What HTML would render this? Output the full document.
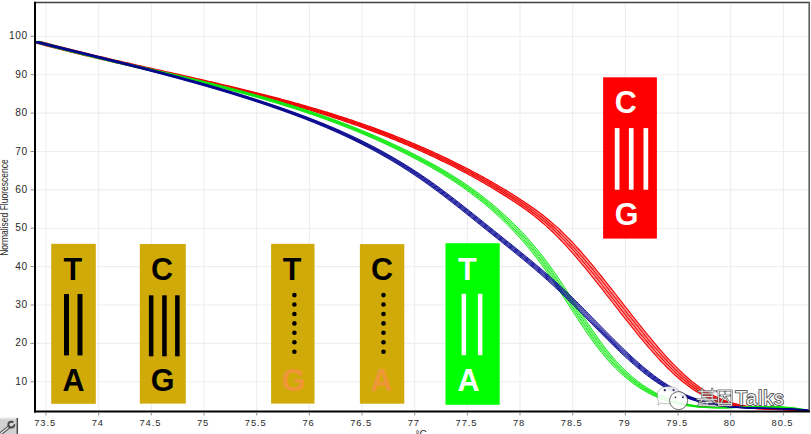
<!DOCTYPE html>
<html><head><meta charset="utf-8"><style>
html,body{margin:0;padding:0;background:#fff;width:811px;height:434px;overflow:hidden;}
svg{display:block;font-family:"Liberation Sans", sans-serif;}
</style></head><body>
<svg width="811" height="434" viewBox="0 0 811 434">
<rect x="0" y="0" width="811" height="434" fill="#ffffff"/>
<g stroke="#eeeeee" stroke-width="1.1"><line x1="46.0" y1="3" x2="46.0" y2="411" /><line x1="98.7" y1="3" x2="98.7" y2="411" /><line x1="151.3" y1="3" x2="151.3" y2="411" /><line x1="204.0" y1="3" x2="204.0" y2="411" /><line x1="256.7" y1="3" x2="256.7" y2="411" /><line x1="309.4" y1="3" x2="309.4" y2="411" /><line x1="362.0" y1="3" x2="362.0" y2="411" /><line x1="414.7" y1="3" x2="414.7" y2="411" /><line x1="467.4" y1="3" x2="467.4" y2="411" /><line x1="520.0" y1="3" x2="520.0" y2="411" /><line x1="572.7" y1="3" x2="572.7" y2="411" /><line x1="625.4" y1="3" x2="625.4" y2="411" /><line x1="678.0" y1="3" x2="678.0" y2="411" /><line x1="730.7" y1="3" x2="730.7" y2="411" /><line x1="783.4" y1="3" x2="783.4" y2="411" /><line x1="35" y1="381.8" x2="809" y2="381.8" /><line x1="35" y1="343.4" x2="809" y2="343.4" /><line x1="35" y1="305.0" x2="809" y2="305.0" /><line x1="35" y1="266.6" x2="809" y2="266.6" /><line x1="35" y1="228.2" x2="809" y2="228.2" /><line x1="35" y1="189.9" x2="809" y2="189.9" /><line x1="35" y1="151.5" x2="809" y2="151.5" /><line x1="35" y1="113.1" x2="809" y2="113.1" /><line x1="35" y1="74.7" x2="809" y2="74.7" /><line x1="35" y1="36.3" x2="809" y2="36.3" /></g>
<defs><clipPath id="pc"><rect x="35" y="2" width="775" height="410"/></clipPath></defs><g clip-path="url(#pc)">
<path d="M31.9,41.52 L33.9,42.07 L35.9,42.61 L37.9,43.15 L39.9,43.68 L41.9,44.21 L43.9,44.74 L45.9,45.27 L47.9,45.79 L49.9,46.31 L51.9,46.83 L53.9,47.35 L55.9,47.86 L57.9,48.37 L59.9,48.88 L61.9,49.39 L63.9,49.89 L65.9,50.39 L67.9,50.89 L69.9,51.39 L71.9,51.88 L73.9,52.37 L75.9,52.86 L77.9,53.35 L79.9,53.84 L81.9,54.32 L83.9,54.80 L85.9,55.28 L87.9,55.76 L89.9,56.24 L91.9,56.71 L93.9,57.19 L95.9,57.66 L97.9,58.13 L99.9,58.60 L101.9,59.06 L103.9,59.53 L105.9,59.99 L107.9,60.46 L109.9,60.92 L111.9,61.38 L113.9,61.84 L115.9,62.30 L117.9,62.76 L119.9,63.21 L121.9,63.67 L123.9,64.12 L125.9,64.58 L127.9,65.03 L129.9,65.48 L131.9,65.94 L133.9,66.39 L135.9,66.84 L137.9,67.29 L139.9,67.74 L141.9,68.19 L143.9,68.64 L145.9,69.08 L147.9,69.53 L149.9,69.98 L151.9,70.43 L153.9,70.88 L155.9,71.33 L157.9,71.77 L159.9,72.22 L161.9,72.67 L163.9,73.12 L165.9,73.57 L167.9,74.01 L169.9,74.46 L171.9,74.91 L173.9,75.36 L175.9,75.81 L177.9,76.26 L179.9,76.71 L181.9,77.16 L183.9,77.62 L185.9,78.07 L187.9,78.52 L189.9,78.98 L191.9,79.43 L193.9,79.89 L195.9,80.35 L197.9,80.81 L199.9,81.27 L201.9,81.73 L203.9,82.19 L205.9,82.65 L207.9,83.11 L209.9,83.58 L211.9,84.05 L213.9,84.51 L215.9,84.98 L217.9,85.46 L219.9,85.93 L221.9,86.40 L223.9,86.88 L225.9,87.36 L227.9,87.84 L229.9,88.32 L231.9,88.80 L233.9,89.29 L235.9,89.77 L237.9,90.26 L239.9,90.75 L241.9,91.25 L243.9,91.74 L245.9,92.24 L247.9,92.74 L249.9,93.24 L251.9,93.75 L253.9,94.25 L255.9,94.76 L257.9,95.28 L259.9,95.79 L261.9,96.31 L263.9,96.83 L265.9,97.35 L267.9,97.88 L269.9,98.41 L271.9,98.94 L273.9,99.47 L275.9,100.01 L277.9,100.55 L279.9,101.09 L281.9,101.64 L283.9,102.19 L285.9,102.74 L287.9,103.30 L289.9,103.86 L291.9,104.42 L293.9,104.99 L295.9,105.56 L297.9,106.13 L299.9,106.71 L301.9,107.29 L303.9,107.87 L305.9,108.46 L307.9,109.06 L309.9,109.65 L311.9,110.25 L313.9,110.86 L315.9,111.46 L317.9,112.08 L319.9,112.69 L321.9,113.31 L323.9,113.94 L325.9,114.56 L327.9,115.20 L329.9,115.83 L331.9,116.48 L333.9,117.12 L335.9,117.77 L337.9,118.43 L339.9,119.09 L341.9,119.75 L343.9,120.42 L345.9,121.10 L347.9,121.78 L349.9,122.46 L351.9,123.15 L353.9,123.84 L355.9,124.54 L357.9,125.25 L359.9,125.95 L361.9,126.67 L363.9,127.39 L365.9,128.11 L367.9,128.84 L369.9,129.58 L371.9,130.32 L373.9,131.07 L375.9,131.82 L377.9,132.57 L379.9,133.34 L381.9,134.11 L383.9,134.88 L385.9,135.66 L387.9,136.45 L389.9,137.24 L391.9,138.04 L393.9,138.84 L395.9,139.65 L397.9,140.47 L399.9,141.29 L401.9,142.12 L403.9,142.95 L405.9,143.79 L407.9,144.64 L409.9,145.50 L411.9,146.36 L413.9,147.22 L415.9,148.10 L417.9,148.98 L419.9,149.86 L421.9,150.76 L423.9,151.66 L425.9,152.56 L427.9,153.48 L429.9,154.40 L431.9,155.32 L433.9,156.26 L435.9,157.20 L437.9,158.15 L439.9,159.11 L441.9,160.07 L443.9,161.04 L445.9,162.02 L447.9,163.00 L449.9,163.99 L451.9,164.99 L453.9,166.00 L455.9,167.02 L457.9,168.04 L459.9,169.07 L461.9,170.11 L463.9,171.16 L465.9,172.22 L467.9,173.28 L469.9,174.36 L471.9,175.44 L473.9,176.53 L475.9,177.63 L477.9,178.74 L479.9,179.86 L481.9,180.99 L483.9,182.13 L485.9,183.28 L487.9,184.44 L489.9,185.60 L491.9,186.78 L493.9,187.97 L495.9,189.17 L497.9,190.38 L499.9,191.60 L501.9,192.83 L503.9,194.07 L505.9,195.32 L507.9,196.58 L509.9,197.86 L511.9,199.14 L513.9,200.44 L515.9,201.76 L517.9,203.09 L519.9,204.44 L521.9,205.81 L523.9,207.20 L525.9,208.61 L527.9,210.05 L529.9,211.52 L531.9,213.01 L533.9,214.53 L535.9,216.08 L537.9,217.66 L539.9,219.28 L541.9,220.93 L543.9,222.62 L545.9,224.34 L547.9,226.11 L549.9,227.92 L551.9,229.77 L553.9,231.66 L555.9,233.60 L557.9,235.58 L559.9,237.60 L561.9,239.66 L563.9,241.76 L565.9,243.89 L567.9,246.06 L569.9,248.26 L571.9,250.50 L573.9,252.76 L575.9,255.05 L577.9,257.37 L579.9,259.72 L581.9,262.09 L583.9,264.49 L585.9,266.90 L587.9,269.34 L589.9,271.79 L591.9,274.26 L593.9,276.75 L595.9,279.26 L597.9,281.77 L599.9,284.30 L601.9,286.84 L603.9,289.38 L605.9,291.94 L607.9,294.50 L609.9,297.06 L611.9,299.63 L613.9,302.20 L615.9,304.76 L617.9,307.33 L619.9,309.90 L621.9,312.46 L623.9,315.01 L625.9,317.56 L627.9,320.10 L629.9,322.62 L631.9,325.14 L633.9,327.64 L635.9,330.13 L637.9,332.60 L639.9,335.06 L641.9,337.49 L643.9,339.91 L645.9,342.30 L647.9,344.67 L649.9,347.01 L651.9,349.32 L653.9,351.61 L655.9,353.86 L657.9,356.09 L659.9,358.28 L661.9,360.43 L663.9,362.55 L665.9,364.63 L667.9,366.67 L669.9,368.67 L671.9,370.63 L673.9,372.54 L675.9,374.40 L677.9,376.22 L679.9,377.99 L681.9,379.71 L683.9,381.38 L685.9,382.99 L687.9,384.55 L689.9,386.05 L691.9,387.49 L693.9,388.87 L695.9,390.19 L697.9,391.45 L699.9,392.65 L701.9,393.79 L703.9,394.88 L705.9,395.92 L707.9,396.90 L709.9,397.83 L711.9,398.71 L713.9,399.54 L715.9,400.33 L717.9,401.07 L719.9,401.76 L721.9,402.42 L723.9,403.03 L725.9,403.60 L727.9,404.14 L729.9,404.64 L731.9,405.10 L733.9,405.53 L735.9,405.93 L737.9,406.30 L739.9,406.64 L741.9,406.95 L743.9,407.23 L745.9,407.49 L747.9,407.73 L749.9,407.94 L751.9,408.14 L753.9,408.31 L755.9,408.47 L757.9,408.61 L759.9,408.74 L761.9,408.86 L763.9,408.96 L765.9,409.05 L767.9,409.14 L769.9,409.22 L771.9,409.29 L773.9,409.36 L775.9,409.43 L777.9,409.49 L779.9,409.56 L781.9,409.63 L783.9,409.70 L785.9,409.77 L787.9,409.85 L789.9,409.94 L791.9,410.04 L793.9,410.15 L795.9,410.28 L797.9,410.41 L799.9,410.56 L801.9,410.73 L803.9,410.92 L805.9,411.12" stroke="#ff6a6a" stroke-width="1.00" fill="none"/>
<path d="M35.0,41.42 L37.0,41.97 L39.0,42.51 L41.0,43.05 L43.0,43.58 L45.0,44.11 L47.0,44.64 L49.0,45.17 L51.0,45.69 L53.0,46.21 L55.0,46.73 L57.0,47.25 L59.0,47.76 L61.0,48.27 L63.0,48.78 L65.0,49.29 L67.0,49.79 L69.0,50.29 L71.0,50.79 L73.0,51.29 L75.0,51.78 L77.0,52.27 L79.0,52.76 L81.0,53.25 L83.0,53.74 L85.0,54.22 L87.0,54.70 L89.0,55.18 L91.0,55.66 L93.0,56.14 L95.0,56.61 L97.0,57.09 L99.0,57.56 L101.0,58.03 L103.0,58.50 L105.0,58.96 L107.0,59.43 L109.0,59.89 L111.0,60.36 L113.0,60.82 L115.0,61.28 L117.0,61.74 L119.0,62.20 L121.0,62.66 L123.0,63.11 L125.0,63.57 L127.0,64.02 L129.0,64.48 L131.0,64.93 L133.0,65.38 L135.0,65.84 L137.0,66.29 L139.0,66.74 L141.0,67.19 L143.0,67.64 L145.0,68.09 L147.0,68.54 L149.0,68.98 L151.0,69.43 L153.0,69.88 L155.0,70.33 L157.0,70.78 L159.0,71.23 L161.0,71.67 L163.0,72.12 L165.0,72.57 L167.0,73.02 L169.0,73.47 L171.0,73.91 L173.0,74.36 L175.0,74.81 L177.0,75.26 L179.0,75.71 L181.0,76.16 L183.0,76.61 L185.0,77.06 L187.0,77.52 L189.0,77.97 L191.0,78.42 L193.0,78.88 L195.0,79.33 L197.0,79.79 L199.0,80.25 L201.0,80.71 L203.0,81.17 L205.0,81.63 L207.0,82.09 L209.0,82.55 L211.0,83.01 L213.0,83.48 L215.0,83.95 L217.0,84.41 L219.0,84.88 L221.0,85.36 L223.0,85.83 L225.0,86.30 L227.0,86.78 L229.0,87.26 L231.0,87.74 L233.0,88.22 L235.0,88.70 L237.0,89.19 L239.0,89.67 L241.0,90.16 L243.0,90.65 L245.0,91.15 L247.0,91.64 L249.0,92.14 L251.0,92.64 L253.0,93.14 L255.0,93.65 L257.0,94.15 L259.0,94.66 L261.0,95.18 L263.0,95.69 L265.0,96.21 L267.0,96.73 L269.0,97.25 L271.0,97.78 L273.0,98.31 L275.0,98.84 L277.0,99.37 L279.0,99.91 L281.0,100.45 L283.0,100.99 L285.0,101.54 L287.0,102.09 L289.0,102.64 L291.0,103.20 L293.0,103.76 L295.0,104.32 L297.0,104.89 L299.0,105.46 L301.0,106.03 L303.0,106.61 L305.0,107.19 L307.0,107.77 L309.0,108.36 L311.0,108.96 L313.0,109.55 L315.0,110.15 L317.0,110.76 L319.0,111.36 L321.0,111.98 L323.0,112.59 L325.0,113.21 L327.0,113.84 L329.0,114.46 L331.0,115.10 L333.0,115.73 L335.0,116.38 L337.0,117.02 L339.0,117.67 L341.0,118.33 L343.0,118.99 L345.0,119.65 L347.0,120.32 L349.0,121.00 L351.0,121.68 L353.0,122.36 L355.0,123.05 L357.0,123.74 L359.0,124.44 L361.0,125.15 L363.0,125.85 L365.0,126.57 L367.0,127.29 L369.0,128.01 L371.0,128.74 L373.0,129.48 L375.0,130.22 L377.0,130.97 L379.0,131.72 L381.0,132.47 L383.0,133.24 L385.0,134.01 L387.0,134.78 L389.0,135.56 L391.0,136.35 L393.0,137.14 L395.0,137.94 L397.0,138.74 L399.0,139.55 L401.0,140.37 L403.0,141.19 L405.0,142.02 L407.0,142.85 L409.0,143.69 L411.0,144.54 L413.0,145.40 L415.0,146.26 L417.0,147.12 L419.0,148.00 L421.0,148.88 L423.0,149.76 L425.0,150.66 L427.0,151.56 L429.0,152.46 L431.0,153.38 L433.0,154.30 L435.0,155.22 L437.0,156.16 L439.0,157.10 L441.0,158.05 L443.0,159.01 L445.0,159.97 L447.0,160.94 L449.0,161.92 L451.0,162.90 L453.0,163.89 L455.0,164.89 L457.0,165.90 L459.0,166.92 L461.0,167.94 L463.0,168.97 L465.0,170.01 L467.0,171.06 L469.0,172.12 L471.0,173.18 L473.0,174.26 L475.0,175.34 L477.0,176.43 L479.0,177.53 L481.0,178.64 L483.0,179.76 L485.0,180.89 L487.0,182.03 L489.0,183.18 L491.0,184.34 L493.0,185.50 L495.0,186.68 L497.0,187.87 L499.0,189.07 L501.0,190.28 L503.0,191.50 L505.0,192.73 L507.0,193.97 L509.0,195.22 L511.0,196.48 L513.0,197.76 L515.0,199.04 L517.0,200.34 L519.0,201.66 L521.0,202.99 L523.0,204.34 L525.0,205.71 L527.0,207.10 L529.0,208.51 L531.0,209.95 L533.0,211.42 L535.0,212.91 L537.0,214.43 L539.0,215.98 L541.0,217.56 L543.0,219.18 L545.0,220.83 L547.0,222.52 L549.0,224.24 L551.0,226.01 L553.0,227.82 L555.0,229.67 L557.0,231.56 L559.0,233.50 L561.0,235.48 L563.0,237.50 L565.0,239.56 L567.0,241.66 L569.0,243.79 L571.0,245.96 L573.0,248.16 L575.0,250.40 L577.0,252.66 L579.0,254.95 L581.0,257.27 L583.0,259.62 L585.0,261.99 L587.0,264.39 L589.0,266.80 L591.0,269.24 L593.0,271.69 L595.0,274.16 L597.0,276.65 L599.0,279.16 L601.0,281.67 L603.0,284.20 L605.0,286.74 L607.0,289.28 L609.0,291.84 L611.0,294.40 L613.0,296.96 L615.0,299.53 L617.0,302.10 L619.0,304.66 L621.0,307.23 L623.0,309.80 L625.0,312.36 L627.0,314.91 L629.0,317.46 L631.0,320.00 L633.0,322.52 L635.0,325.04 L637.0,327.54 L639.0,330.03 L641.0,332.50 L643.0,334.96 L645.0,337.39 L647.0,339.81 L649.0,342.20 L651.0,344.57 L653.0,346.91 L655.0,349.22 L657.0,351.51 L659.0,353.76 L661.0,355.99 L663.0,358.18 L665.0,360.33 L667.0,362.45 L669.0,364.53 L671.0,366.57 L673.0,368.57 L675.0,370.53 L677.0,372.44 L679.0,374.30 L681.0,376.12 L683.0,377.89 L685.0,379.61 L687.0,381.28 L689.0,382.89 L691.0,384.45 L693.0,385.95 L695.0,387.39 L697.0,388.77 L699.0,390.09 L701.0,391.35 L703.0,392.55 L705.0,393.69 L707.0,394.78 L709.0,395.82 L711.0,396.80 L713.0,397.73 L715.0,398.61 L717.0,399.44 L719.0,400.23 L721.0,400.97 L723.0,401.66 L725.0,402.32 L727.0,402.93 L729.0,403.50 L731.0,404.04 L733.0,404.54 L735.0,405.00 L737.0,405.43 L739.0,405.83 L741.0,406.20 L743.0,406.54 L745.0,406.85 L747.0,407.13 L749.0,407.39 L751.0,407.63 L753.0,407.84 L755.0,408.04 L757.0,408.21 L759.0,408.37 L761.0,408.51 L763.0,408.64 L765.0,408.76 L767.0,408.86 L769.0,408.95 L771.0,409.04 L773.0,409.12 L775.0,409.19 L777.0,409.26 L779.0,409.33 L781.0,409.39 L783.0,409.46 L785.0,409.53 L787.0,409.60 L789.0,409.67 L791.0,409.75 L793.0,409.84 L795.0,409.94 L797.0,410.05 L799.0,410.18 L801.0,410.31 L803.0,410.46 L805.0,410.63 L807.0,410.82 L809.0,411.02" stroke="#ff6a6a" stroke-width="1.00" fill="none"/>
<path d="M38.1,41.32 L40.1,41.87 L42.1,42.41 L44.1,42.95 L46.1,43.48 L48.1,44.01 L50.1,44.54 L52.1,45.07 L54.1,45.59 L56.1,46.11 L58.1,46.63 L60.1,47.15 L62.1,47.66 L64.1,48.17 L66.1,48.68 L68.1,49.19 L70.1,49.69 L72.1,50.19 L74.1,50.69 L76.1,51.19 L78.1,51.68 L80.1,52.17 L82.1,52.66 L84.1,53.15 L86.1,53.64 L88.1,54.12 L90.1,54.60 L92.1,55.08 L94.1,55.56 L96.1,56.04 L98.1,56.51 L100.1,56.99 L102.1,57.46 L104.1,57.93 L106.1,58.40 L108.1,58.86 L110.1,59.33 L112.1,59.79 L114.1,60.26 L116.1,60.72 L118.1,61.18 L120.1,61.64 L122.1,62.10 L124.1,62.56 L126.1,63.01 L128.1,63.47 L130.1,63.92 L132.1,64.38 L134.1,64.83 L136.1,65.28 L138.1,65.74 L140.1,66.19 L142.1,66.64 L144.1,67.09 L146.1,67.54 L148.1,67.99 L150.1,68.44 L152.1,68.88 L154.1,69.33 L156.1,69.78 L158.1,70.23 L160.1,70.68 L162.1,71.13 L164.1,71.57 L166.1,72.02 L168.1,72.47 L170.1,72.92 L172.1,73.37 L174.1,73.81 L176.1,74.26 L178.1,74.71 L180.1,75.16 L182.1,75.61 L184.1,76.06 L186.1,76.51 L188.1,76.96 L190.1,77.42 L192.1,77.87 L194.1,78.32 L196.1,78.78 L198.1,79.23 L200.1,79.69 L202.1,80.15 L204.1,80.61 L206.1,81.07 L208.1,81.53 L210.1,81.99 L212.1,82.45 L214.1,82.91 L216.1,83.38 L218.1,83.85 L220.1,84.31 L222.1,84.78 L224.1,85.26 L226.1,85.73 L228.1,86.20 L230.1,86.68 L232.1,87.16 L234.1,87.64 L236.1,88.12 L238.1,88.60 L240.1,89.09 L242.1,89.57 L244.1,90.06 L246.1,90.55 L248.1,91.05 L250.1,91.54 L252.1,92.04 L254.1,92.54 L256.1,93.04 L258.1,93.55 L260.1,94.05 L262.1,94.56 L264.1,95.08 L266.1,95.59 L268.1,96.11 L270.1,96.63 L272.1,97.15 L274.1,97.68 L276.1,98.21 L278.1,98.74 L280.1,99.27 L282.1,99.81 L284.1,100.35 L286.1,100.89 L288.1,101.44 L290.1,101.99 L292.1,102.54 L294.1,103.10 L296.1,103.66 L298.1,104.22 L300.1,104.79 L302.1,105.36 L304.1,105.93 L306.1,106.51 L308.1,107.09 L310.1,107.67 L312.1,108.26 L314.1,108.86 L316.1,109.45 L318.1,110.05 L320.1,110.66 L322.1,111.26 L324.1,111.88 L326.1,112.49 L328.1,113.11 L330.1,113.74 L332.1,114.36 L334.1,115.00 L336.1,115.63 L338.1,116.28 L340.1,116.92 L342.1,117.57 L344.1,118.23 L346.1,118.89 L348.1,119.55 L350.1,120.22 L352.1,120.90 L354.1,121.58 L356.1,122.26 L358.1,122.95 L360.1,123.64 L362.1,124.34 L364.1,125.05 L366.1,125.75 L368.1,126.47 L370.1,127.19 L372.1,127.91 L374.1,128.64 L376.1,129.38 L378.1,130.12 L380.1,130.87 L382.1,131.62 L384.1,132.37 L386.1,133.14 L388.1,133.91 L390.1,134.68 L392.1,135.46 L394.1,136.25 L396.1,137.04 L398.1,137.84 L400.1,138.64 L402.1,139.45 L404.1,140.27 L406.1,141.09 L408.1,141.92 L410.1,142.75 L412.1,143.59 L414.1,144.44 L416.1,145.30 L418.1,146.16 L420.1,147.02 L422.1,147.90 L424.1,148.78 L426.1,149.66 L428.1,150.56 L430.1,151.46 L432.1,152.36 L434.1,153.28 L436.1,154.20 L438.1,155.12 L440.1,156.06 L442.1,157.00 L444.1,157.95 L446.1,158.91 L448.1,159.87 L450.1,160.84 L452.1,161.82 L454.1,162.80 L456.1,163.79 L458.1,164.79 L460.1,165.80 L462.1,166.82 L464.1,167.84 L466.1,168.87 L468.1,169.91 L470.1,170.96 L472.1,172.02 L474.1,173.08 L476.1,174.16 L478.1,175.24 L480.1,176.33 L482.1,177.43 L484.1,178.54 L486.1,179.66 L488.1,180.79 L490.1,181.93 L492.1,183.08 L494.1,184.24 L496.1,185.40 L498.1,186.58 L500.1,187.77 L502.1,188.97 L504.1,190.18 L506.1,191.40 L508.1,192.63 L510.1,193.87 L512.1,195.12 L514.1,196.38 L516.1,197.66 L518.1,198.94 L520.1,200.24 L522.1,201.56 L524.1,202.89 L526.1,204.24 L528.1,205.61 L530.1,207.00 L532.1,208.41 L534.1,209.85 L536.1,211.32 L538.1,212.81 L540.1,214.33 L542.1,215.88 L544.1,217.46 L546.1,219.08 L548.1,220.73 L550.1,222.42 L552.1,224.14 L554.1,225.91 L556.1,227.72 L558.1,229.57 L560.1,231.46 L562.1,233.40 L564.1,235.38 L566.1,237.40 L568.1,239.46 L570.1,241.56 L572.1,243.69 L574.1,245.86 L576.1,248.06 L578.1,250.30 L580.1,252.56 L582.1,254.85 L584.1,257.17 L586.1,259.52 L588.1,261.89 L590.1,264.29 L592.1,266.70 L594.1,269.14 L596.1,271.59 L598.1,274.06 L600.1,276.55 L602.1,279.06 L604.1,281.57 L606.1,284.10 L608.1,286.64 L610.1,289.18 L612.1,291.74 L614.1,294.30 L616.1,296.86 L618.1,299.43 L620.1,302.00 L622.1,304.56 L624.1,307.13 L626.1,309.70 L628.1,312.26 L630.1,314.81 L632.1,317.36 L634.1,319.90 L636.1,322.42 L638.1,324.94 L640.1,327.44 L642.1,329.93 L644.1,332.40 L646.1,334.86 L648.1,337.29 L650.1,339.71 L652.1,342.10 L654.1,344.47 L656.1,346.81 L658.1,349.12 L660.1,351.41 L662.1,353.66 L664.1,355.89 L666.1,358.08 L668.1,360.23 L670.1,362.35 L672.1,364.43 L674.1,366.47 L676.1,368.47 L678.1,370.43 L680.1,372.34 L682.1,374.20 L684.1,376.02 L686.1,377.79 L688.1,379.51 L690.1,381.18 L692.1,382.79 L694.1,384.35 L696.1,385.85 L698.1,387.29 L700.1,388.67 L702.1,389.99 L704.1,391.25 L706.1,392.45 L708.1,393.59 L710.1,394.68 L712.1,395.72 L714.1,396.70 L716.1,397.63 L718.1,398.51 L720.1,399.34 L722.1,400.13 L724.1,400.87 L726.1,401.56 L728.1,402.22 L730.1,402.83 L732.1,403.40 L734.1,403.94 L736.1,404.44 L738.1,404.90 L740.1,405.33 L742.1,405.73 L744.1,406.10 L746.1,406.44 L748.1,406.75 L750.1,407.03 L752.1,407.29 L754.1,407.53 L756.1,407.74 L758.1,407.94 L760.1,408.11 L762.1,408.27 L764.1,408.41 L766.1,408.54 L768.1,408.66 L770.1,408.76 L772.1,408.85 L774.1,408.94 L776.1,409.02 L778.1,409.09 L780.1,409.16 L782.1,409.23 L784.1,409.29 L786.1,409.36 L788.1,409.43 L790.1,409.50 L792.1,409.57 L794.1,409.65 L796.1,409.74 L798.1,409.84 L800.1,409.95 L802.1,410.08 L804.1,410.21 L806.1,410.36 L808.1,410.53 L810.1,410.72 L812.1,410.92" stroke="#ff6a6a" stroke-width="1.00" fill="none"/>
<path d="M30.4,41.57 L32.4,42.12 L34.4,42.66 L36.4,43.20 L38.4,43.73 L40.4,44.26 L42.4,44.79 L44.4,45.32 L46.4,45.84 L48.4,46.36 L50.4,46.88 L52.4,47.40 L54.4,47.91 L56.4,48.42 L58.4,48.93 L60.4,49.44 L62.4,49.94 L64.4,50.44 L66.4,50.94 L68.4,51.44 L70.4,51.93 L72.4,52.42 L74.4,52.91 L76.4,53.40 L78.4,53.89 L80.4,54.37 L82.4,54.85 L84.4,55.33 L86.4,55.81 L88.4,56.29 L90.4,56.76 L92.4,57.24 L94.4,57.71 L96.4,58.18 L98.4,58.65 L100.4,59.11 L102.4,59.58 L104.4,60.04 L106.4,60.51 L108.4,60.97 L110.4,61.43 L112.4,61.89 L114.4,62.35 L116.4,62.81 L118.4,63.26 L120.4,63.72 L122.4,64.17 L124.4,64.63 L126.4,65.08 L128.4,65.53 L130.4,65.99 L132.4,66.44 L134.4,66.89 L136.4,67.34 L138.4,67.79 L140.4,68.24 L142.4,68.69 L144.4,69.13 L146.4,69.58 L148.4,70.03 L150.4,70.48 L152.4,70.93 L154.4,71.38 L156.4,71.82 L158.4,72.27 L160.4,72.72 L162.4,73.17 L164.4,73.62 L166.4,74.06 L168.4,74.51 L170.4,74.96 L172.4,75.41 L174.4,75.86 L176.4,76.31 L178.4,76.76 L180.4,77.21 L182.4,77.67 L184.4,78.12 L186.4,78.57 L188.4,79.03 L190.4,79.48 L192.4,79.94 L194.4,80.40 L196.4,80.86 L198.4,81.32 L200.4,81.78 L202.4,82.24 L204.4,82.70 L206.4,83.16 L208.4,83.63 L210.4,84.10 L212.4,84.56 L214.4,85.03 L216.4,85.51 L218.4,85.98 L220.4,86.45 L222.4,86.93 L224.4,87.41 L226.4,87.89 L228.4,88.37 L230.4,88.85 L232.4,89.34 L234.4,89.82 L236.4,90.31 L238.4,90.80 L240.4,91.30 L242.4,91.79 L244.4,92.29 L246.4,92.79 L248.4,93.29 L250.4,93.80 L252.4,94.30 L254.4,94.81 L256.4,95.33 L258.4,95.84 L260.4,96.36 L262.4,96.88 L264.4,97.40 L266.4,97.93 L268.4,98.46 L270.4,98.99 L272.4,99.52 L274.4,100.06 L276.4,100.60 L278.4,101.14 L280.4,101.69 L282.4,102.24 L284.4,102.79 L286.4,103.35 L288.4,103.91 L290.4,104.47 L292.4,105.04 L294.4,105.61 L296.4,106.18 L298.4,106.76 L300.4,107.34 L302.4,107.92 L304.4,108.51 L306.4,109.11 L308.4,109.70 L310.4,110.30 L312.4,110.91 L314.4,111.51 L316.4,112.13 L318.4,112.74 L320.4,113.36 L322.4,113.99 L324.4,114.61 L326.4,115.25 L328.4,115.88 L330.4,116.53 L332.4,117.17 L334.4,117.82 L336.4,118.48 L338.4,119.14 L340.4,119.80 L342.4,120.47 L344.4,121.15 L346.4,121.83 L348.4,122.51 L350.4,123.20 L352.4,123.89 L354.4,124.59 L356.4,125.30 L358.4,126.00 L360.4,126.72 L362.4,127.44 L364.4,128.16 L366.4,128.89 L368.4,129.63 L370.4,130.37 L372.4,131.12 L374.4,131.87 L376.4,132.62 L378.4,133.39 L380.4,134.16 L382.4,134.93 L384.4,135.71 L386.4,136.50 L388.4,137.29 L390.4,138.09 L392.4,138.89 L394.4,139.70 L396.4,140.52 L398.4,141.34 L400.4,142.17 L402.4,143.00 L404.4,143.84 L406.4,144.69 L408.4,145.55 L410.4,146.41 L412.4,147.27 L414.4,148.15 L416.4,149.03 L418.4,149.91 L420.4,150.81 L422.4,151.71 L424.4,152.61 L426.4,153.53 L428.4,154.45 L430.4,155.37 L432.4,156.31 L434.4,157.25 L436.4,158.20 L438.4,159.16 L440.4,160.12 L442.4,161.09 L444.4,162.07 L446.4,163.05 L448.4,164.04 L450.4,165.04 L452.4,166.05 L454.4,167.07 L456.4,168.09 L458.4,169.12 L460.4,170.16 L462.4,171.21 L464.4,172.27 L466.4,173.33 L468.4,174.41 L470.4,175.49 L472.4,176.58 L474.4,177.68 L476.4,178.79 L478.4,179.91 L480.4,181.04 L482.4,182.18 L484.4,183.33 L486.4,184.49 L488.4,185.65 L490.4,186.83 L492.4,188.02 L494.4,189.22 L496.4,190.43 L498.4,191.65 L500.4,192.88 L502.4,194.12 L504.4,195.37 L506.4,196.63 L508.4,197.91 L510.4,199.19 L512.4,200.49 L514.4,201.81 L516.4,203.14 L518.4,204.49 L520.4,205.86 L522.4,207.25 L524.4,208.66 L526.4,210.10 L528.4,211.57 L530.4,213.06 L532.4,214.58 L534.4,216.13 L536.4,217.71 L538.4,219.33 L540.4,220.98 L542.4,222.67 L544.4,224.39 L546.4,226.16 L548.4,227.97 L550.4,229.82 L552.4,231.71 L554.4,233.65 L556.4,235.63 L558.4,237.65 L560.4,239.71 L562.4,241.81 L564.4,243.94 L566.4,246.11 L568.4,248.31 L570.4,250.55 L572.4,252.81 L574.4,255.10 L576.4,257.42 L578.4,259.77 L580.4,262.14 L582.4,264.54 L584.4,266.95 L586.4,269.39 L588.4,271.84 L590.4,274.31 L592.4,276.80 L594.4,279.31 L596.4,281.82 L598.4,284.35 L600.4,286.89 L602.4,289.43 L604.4,291.99 L606.4,294.55 L608.4,297.11 L610.4,299.68 L612.4,302.25 L614.4,304.81 L616.4,307.38 L618.4,309.95 L620.4,312.51 L622.4,315.06 L624.4,317.61 L626.4,320.15 L628.4,322.67 L630.4,325.19 L632.4,327.69 L634.4,330.18 L636.4,332.65 L638.4,335.11 L640.4,337.54 L642.4,339.96 L644.4,342.35 L646.4,344.72 L648.4,347.06 L650.4,349.37 L652.4,351.66 L654.4,353.91 L656.4,356.14 L658.4,358.33 L660.4,360.48 L662.4,362.60 L664.4,364.68 L666.4,366.72 L668.4,368.72 L670.4,370.68 L672.4,372.59 L674.4,374.45 L676.4,376.27 L678.4,378.04 L680.4,379.76 L682.4,381.43 L684.4,383.04 L686.4,384.60 L688.4,386.10 L690.4,387.54 L692.4,388.92 L694.4,390.24 L696.4,391.50 L698.4,392.70 L700.4,393.84 L702.4,394.93 L704.4,395.97 L706.4,396.95 L708.4,397.88 L710.4,398.76 L712.4,399.59 L714.4,400.38 L716.4,401.12 L718.4,401.81 L720.4,402.47 L722.4,403.08 L724.4,403.65 L726.4,404.19 L728.4,404.69 L730.4,405.15 L732.4,405.58 L734.4,405.98 L736.4,406.35 L738.4,406.69 L740.4,407.00 L742.4,407.28 L744.4,407.54 L746.4,407.78 L748.4,407.99 L750.4,408.19 L752.4,408.36 L754.4,408.52 L756.4,408.66 L758.4,408.79 L760.4,408.91 L762.4,409.01 L764.4,409.10 L766.4,409.19 L768.4,409.27 L770.4,409.34 L772.4,409.41 L774.4,409.48 L776.4,409.54 L778.4,409.61 L780.4,409.68 L782.4,409.75 L784.4,409.82 L786.4,409.90 L788.4,409.99 L790.4,410.09 L792.4,410.20 L794.4,410.33 L796.4,410.46 L798.4,410.61 L800.4,410.78 L802.4,410.97 L804.4,411.17" stroke="#f00000" stroke-width="1.20" fill="none"/>
<path d="M33.5,41.47 L35.5,42.02 L37.5,42.56 L39.5,43.10 L41.5,43.63 L43.5,44.16 L45.5,44.69 L47.5,45.22 L49.5,45.74 L51.5,46.26 L53.5,46.78 L55.5,47.30 L57.5,47.81 L59.5,48.32 L61.5,48.83 L63.5,49.34 L65.5,49.84 L67.5,50.34 L69.5,50.84 L71.5,51.34 L73.5,51.83 L75.5,52.32 L77.5,52.81 L79.5,53.30 L81.5,53.79 L83.5,54.27 L85.5,54.75 L87.5,55.23 L89.5,55.71 L91.5,56.19 L93.5,56.66 L95.5,57.14 L97.5,57.61 L99.5,58.08 L101.5,58.55 L103.5,59.01 L105.5,59.48 L107.5,59.94 L109.5,60.41 L111.5,60.87 L113.5,61.33 L115.5,61.79 L117.5,62.25 L119.5,62.71 L121.5,63.16 L123.5,63.62 L125.5,64.07 L127.5,64.53 L129.5,64.98 L131.5,65.43 L133.5,65.89 L135.5,66.34 L137.5,66.79 L139.5,67.24 L141.5,67.69 L143.5,68.14 L145.5,68.59 L147.5,69.03 L149.5,69.48 L151.5,69.93 L153.5,70.38 L155.5,70.83 L157.5,71.28 L159.5,71.72 L161.5,72.17 L163.5,72.62 L165.5,73.07 L167.5,73.52 L169.5,73.96 L171.5,74.41 L173.5,74.86 L175.5,75.31 L177.5,75.76 L179.5,76.21 L181.5,76.66 L183.5,77.11 L185.5,77.57 L187.5,78.02 L189.5,78.47 L191.5,78.93 L193.5,79.38 L195.5,79.84 L197.5,80.30 L199.5,80.76 L201.5,81.22 L203.5,81.68 L205.5,82.14 L207.5,82.60 L209.5,83.06 L211.5,83.53 L213.5,84.00 L215.5,84.46 L217.5,84.93 L219.5,85.41 L221.5,85.88 L223.5,86.35 L225.5,86.83 L227.5,87.31 L229.5,87.79 L231.5,88.27 L233.5,88.75 L235.5,89.24 L237.5,89.72 L239.5,90.21 L241.5,90.70 L243.5,91.20 L245.5,91.69 L247.5,92.19 L249.5,92.69 L251.5,93.19 L253.5,93.70 L255.5,94.20 L257.5,94.71 L259.5,95.23 L261.5,95.74 L263.5,96.26 L265.5,96.78 L267.5,97.30 L269.5,97.83 L271.5,98.36 L273.5,98.89 L275.5,99.42 L277.5,99.96 L279.5,100.50 L281.5,101.04 L283.5,101.59 L285.5,102.14 L287.5,102.69 L289.5,103.25 L291.5,103.81 L293.5,104.37 L295.5,104.94 L297.5,105.51 L299.5,106.08 L301.5,106.66 L303.5,107.24 L305.5,107.82 L307.5,108.41 L309.5,109.01 L311.5,109.60 L313.5,110.20 L315.5,110.81 L317.5,111.41 L319.5,112.03 L321.5,112.64 L323.5,113.26 L325.5,113.89 L327.5,114.51 L329.5,115.15 L331.5,115.78 L333.5,116.43 L335.5,117.07 L337.5,117.72 L339.5,118.38 L341.5,119.04 L343.5,119.70 L345.5,120.37 L347.5,121.05 L349.5,121.73 L351.5,122.41 L353.5,123.10 L355.5,123.79 L357.5,124.49 L359.5,125.20 L361.5,125.90 L363.5,126.62 L365.5,127.34 L367.5,128.06 L369.5,128.79 L371.5,129.53 L373.5,130.27 L375.5,131.02 L377.5,131.77 L379.5,132.52 L381.5,133.29 L383.5,134.06 L385.5,134.83 L387.5,135.61 L389.5,136.40 L391.5,137.19 L393.5,137.99 L395.5,138.79 L397.5,139.60 L399.5,140.42 L401.5,141.24 L403.5,142.07 L405.5,142.90 L407.5,143.74 L409.5,144.59 L411.5,145.45 L413.5,146.31 L415.5,147.17 L417.5,148.05 L419.5,148.93 L421.5,149.81 L423.5,150.71 L425.5,151.61 L427.5,152.51 L429.5,153.43 L431.5,154.35 L433.5,155.27 L435.5,156.21 L437.5,157.15 L439.5,158.10 L441.5,159.06 L443.5,160.02 L445.5,160.99 L447.5,161.97 L449.5,162.95 L451.5,163.94 L453.5,164.94 L455.5,165.95 L457.5,166.97 L459.5,167.99 L461.5,169.02 L463.5,170.06 L465.5,171.11 L467.5,172.17 L469.5,173.23 L471.5,174.31 L473.5,175.39 L475.5,176.48 L477.5,177.58 L479.5,178.69 L481.5,179.81 L483.5,180.94 L485.5,182.08 L487.5,183.23 L489.5,184.39 L491.5,185.55 L493.5,186.73 L495.5,187.92 L497.5,189.12 L499.5,190.33 L501.5,191.55 L503.5,192.78 L505.5,194.02 L507.5,195.27 L509.5,196.53 L511.5,197.81 L513.5,199.09 L515.5,200.39 L517.5,201.71 L519.5,203.04 L521.5,204.39 L523.5,205.76 L525.5,207.15 L527.5,208.56 L529.5,210.00 L531.5,211.47 L533.5,212.96 L535.5,214.48 L537.5,216.03 L539.5,217.61 L541.5,219.23 L543.5,220.88 L545.5,222.57 L547.5,224.29 L549.5,226.06 L551.5,227.87 L553.5,229.72 L555.5,231.61 L557.5,233.55 L559.5,235.53 L561.5,237.55 L563.5,239.61 L565.5,241.71 L567.5,243.84 L569.5,246.01 L571.5,248.21 L573.5,250.45 L575.5,252.71 L577.5,255.00 L579.5,257.32 L581.5,259.67 L583.5,262.04 L585.5,264.44 L587.5,266.85 L589.5,269.29 L591.5,271.74 L593.5,274.21 L595.5,276.70 L597.5,279.21 L599.5,281.72 L601.5,284.25 L603.5,286.79 L605.5,289.33 L607.5,291.89 L609.5,294.45 L611.5,297.01 L613.5,299.58 L615.5,302.15 L617.5,304.71 L619.5,307.28 L621.5,309.85 L623.5,312.41 L625.5,314.96 L627.5,317.51 L629.5,320.05 L631.5,322.57 L633.5,325.09 L635.5,327.59 L637.5,330.08 L639.5,332.55 L641.5,335.01 L643.5,337.44 L645.5,339.86 L647.5,342.25 L649.5,344.62 L651.5,346.96 L653.5,349.27 L655.5,351.56 L657.5,353.81 L659.5,356.04 L661.5,358.23 L663.5,360.38 L665.5,362.50 L667.5,364.58 L669.5,366.62 L671.5,368.62 L673.5,370.58 L675.5,372.49 L677.5,374.35 L679.5,376.17 L681.5,377.94 L683.5,379.66 L685.5,381.33 L687.5,382.94 L689.5,384.50 L691.5,386.00 L693.5,387.44 L695.5,388.82 L697.5,390.14 L699.5,391.40 L701.5,392.60 L703.5,393.74 L705.5,394.83 L707.5,395.87 L709.5,396.85 L711.5,397.78 L713.5,398.66 L715.5,399.49 L717.5,400.28 L719.5,401.02 L721.5,401.71 L723.5,402.37 L725.5,402.98 L727.5,403.55 L729.5,404.09 L731.5,404.59 L733.5,405.05 L735.5,405.48 L737.5,405.88 L739.5,406.25 L741.5,406.59 L743.5,406.90 L745.5,407.18 L747.5,407.44 L749.5,407.68 L751.5,407.89 L753.5,408.09 L755.5,408.26 L757.5,408.42 L759.5,408.56 L761.5,408.69 L763.5,408.81 L765.5,408.91 L767.5,409.00 L769.5,409.09 L771.5,409.17 L773.5,409.24 L775.5,409.31 L777.5,409.38 L779.5,409.44 L781.5,409.51 L783.5,409.58 L785.5,409.65 L787.5,409.72 L789.5,409.80 L791.5,409.89 L793.5,409.99 L795.5,410.10 L797.5,410.23 L799.5,410.36 L801.5,410.51 L803.5,410.68 L805.5,410.87 L807.5,411.07" stroke="#f00000" stroke-width="1.20" fill="none"/>
<path d="M36.5,41.37 L38.5,41.92 L40.5,42.46 L42.5,43.00 L44.5,43.53 L46.5,44.06 L48.5,44.59 L50.5,45.12 L52.5,45.64 L54.5,46.16 L56.5,46.68 L58.5,47.20 L60.5,47.71 L62.5,48.22 L64.5,48.73 L66.5,49.24 L68.5,49.74 L70.5,50.24 L72.5,50.74 L74.5,51.24 L76.5,51.73 L78.5,52.22 L80.5,52.71 L82.5,53.20 L84.5,53.69 L86.5,54.17 L88.5,54.65 L90.5,55.13 L92.5,55.61 L94.5,56.09 L96.5,56.56 L98.5,57.04 L100.5,57.51 L102.5,57.98 L104.5,58.45 L106.5,58.91 L108.5,59.38 L110.5,59.84 L112.5,60.31 L114.5,60.77 L116.5,61.23 L118.5,61.69 L120.5,62.15 L122.5,62.61 L124.5,63.06 L126.5,63.52 L128.5,63.97 L130.5,64.43 L132.5,64.88 L134.5,65.33 L136.5,65.79 L138.5,66.24 L140.5,66.69 L142.5,67.14 L144.5,67.59 L146.5,68.04 L148.5,68.49 L150.5,68.93 L152.5,69.38 L154.5,69.83 L156.5,70.28 L158.5,70.73 L160.5,71.18 L162.5,71.62 L164.5,72.07 L166.5,72.52 L168.5,72.97 L170.5,73.42 L172.5,73.86 L174.5,74.31 L176.5,74.76 L178.5,75.21 L180.5,75.66 L182.5,76.11 L184.5,76.56 L186.5,77.01 L188.5,77.47 L190.5,77.92 L192.5,78.37 L194.5,78.83 L196.5,79.28 L198.5,79.74 L200.5,80.20 L202.5,80.66 L204.5,81.12 L206.5,81.58 L208.5,82.04 L210.5,82.50 L212.5,82.96 L214.5,83.43 L216.5,83.90 L218.5,84.36 L220.5,84.83 L222.5,85.31 L224.5,85.78 L226.5,86.25 L228.5,86.73 L230.5,87.21 L232.5,87.69 L234.5,88.17 L236.5,88.65 L238.5,89.14 L240.5,89.62 L242.5,90.11 L244.5,90.60 L246.5,91.10 L248.5,91.59 L250.5,92.09 L252.5,92.59 L254.5,93.09 L256.5,93.60 L258.5,94.10 L260.5,94.61 L262.5,95.13 L264.5,95.64 L266.5,96.16 L268.5,96.68 L270.5,97.20 L272.5,97.73 L274.5,98.26 L276.5,98.79 L278.5,99.32 L280.5,99.86 L282.5,100.40 L284.5,100.94 L286.5,101.49 L288.5,102.04 L290.5,102.59 L292.5,103.15 L294.5,103.71 L296.5,104.27 L298.5,104.84 L300.5,105.41 L302.5,105.98 L304.5,106.56 L306.5,107.14 L308.5,107.72 L310.5,108.31 L312.5,108.91 L314.5,109.50 L316.5,110.10 L318.5,110.71 L320.5,111.31 L322.5,111.93 L324.5,112.54 L326.5,113.16 L328.5,113.79 L330.5,114.41 L332.5,115.05 L334.5,115.68 L336.5,116.33 L338.5,116.97 L340.5,117.62 L342.5,118.28 L344.5,118.94 L346.5,119.60 L348.5,120.27 L350.5,120.95 L352.5,121.63 L354.5,122.31 L356.5,123.00 L358.5,123.69 L360.5,124.39 L362.5,125.10 L364.5,125.80 L366.5,126.52 L368.5,127.24 L370.5,127.96 L372.5,128.69 L374.5,129.43 L376.5,130.17 L378.5,130.92 L380.5,131.67 L382.5,132.42 L384.5,133.19 L386.5,133.96 L388.5,134.73 L390.5,135.51 L392.5,136.30 L394.5,137.09 L396.5,137.89 L398.5,138.69 L400.5,139.50 L402.5,140.32 L404.5,141.14 L406.5,141.97 L408.5,142.80 L410.5,143.64 L412.5,144.49 L414.5,145.35 L416.5,146.21 L418.5,147.07 L420.5,147.95 L422.5,148.83 L424.5,149.71 L426.5,150.61 L428.5,151.51 L430.5,152.41 L432.5,153.33 L434.5,154.25 L436.5,155.17 L438.5,156.11 L440.5,157.05 L442.5,158.00 L444.5,158.96 L446.5,159.92 L448.5,160.89 L450.5,161.87 L452.5,162.85 L454.5,163.84 L456.5,164.84 L458.5,165.85 L460.5,166.87 L462.5,167.89 L464.5,168.92 L466.5,169.96 L468.5,171.01 L470.5,172.07 L472.5,173.13 L474.5,174.21 L476.5,175.29 L478.5,176.38 L480.5,177.48 L482.5,178.59 L484.5,179.71 L486.5,180.84 L488.5,181.98 L490.5,183.13 L492.5,184.29 L494.5,185.45 L496.5,186.63 L498.5,187.82 L500.5,189.02 L502.5,190.23 L504.5,191.45 L506.5,192.68 L508.5,193.92 L510.5,195.17 L512.5,196.43 L514.5,197.71 L516.5,198.99 L518.5,200.29 L520.5,201.61 L522.5,202.94 L524.5,204.29 L526.5,205.66 L528.5,207.05 L530.5,208.46 L532.5,209.90 L534.5,211.37 L536.5,212.86 L538.5,214.38 L540.5,215.93 L542.5,217.51 L544.5,219.13 L546.5,220.78 L548.5,222.47 L550.5,224.19 L552.5,225.96 L554.5,227.77 L556.5,229.62 L558.5,231.51 L560.5,233.45 L562.5,235.43 L564.5,237.45 L566.5,239.51 L568.5,241.61 L570.5,243.74 L572.5,245.91 L574.5,248.11 L576.5,250.35 L578.5,252.61 L580.5,254.90 L582.5,257.22 L584.5,259.57 L586.5,261.94 L588.5,264.34 L590.5,266.75 L592.5,269.19 L594.5,271.64 L596.5,274.11 L598.5,276.60 L600.5,279.11 L602.5,281.62 L604.5,284.15 L606.5,286.69 L608.5,289.23 L610.5,291.79 L612.5,294.35 L614.5,296.91 L616.5,299.48 L618.5,302.05 L620.5,304.61 L622.5,307.18 L624.5,309.75 L626.5,312.31 L628.5,314.86 L630.5,317.41 L632.5,319.95 L634.5,322.47 L636.5,324.99 L638.5,327.49 L640.5,329.98 L642.5,332.45 L644.5,334.91 L646.5,337.34 L648.5,339.76 L650.5,342.15 L652.5,344.52 L654.5,346.86 L656.5,349.17 L658.5,351.46 L660.5,353.71 L662.5,355.94 L664.5,358.13 L666.5,360.28 L668.5,362.40 L670.5,364.48 L672.5,366.52 L674.5,368.52 L676.5,370.48 L678.5,372.39 L680.5,374.25 L682.5,376.07 L684.5,377.84 L686.5,379.56 L688.5,381.23 L690.5,382.84 L692.5,384.40 L694.5,385.90 L696.5,387.34 L698.5,388.72 L700.5,390.04 L702.5,391.30 L704.5,392.50 L706.5,393.64 L708.5,394.73 L710.5,395.77 L712.5,396.75 L714.5,397.68 L716.5,398.56 L718.5,399.39 L720.5,400.18 L722.5,400.92 L724.5,401.61 L726.5,402.27 L728.5,402.88 L730.5,403.45 L732.5,403.99 L734.5,404.49 L736.5,404.95 L738.5,405.38 L740.5,405.78 L742.5,406.15 L744.5,406.49 L746.5,406.80 L748.5,407.08 L750.5,407.34 L752.5,407.58 L754.5,407.79 L756.5,407.99 L758.5,408.16 L760.5,408.32 L762.5,408.46 L764.5,408.59 L766.5,408.71 L768.5,408.81 L770.5,408.90 L772.5,408.99 L774.5,409.07 L776.5,409.14 L778.5,409.21 L780.5,409.28 L782.5,409.34 L784.5,409.41 L786.5,409.48 L788.5,409.55 L790.5,409.62 L792.5,409.70 L794.5,409.79 L796.5,409.89 L798.5,410.00 L800.5,410.13 L802.5,410.26 L804.5,410.41 L806.5,410.58 L808.5,410.77 L810.5,410.97" stroke="#f00000" stroke-width="1.20" fill="none"/>
<path d="M39.6,41.27 L41.6,41.82 L43.6,42.36 L45.6,42.90 L47.6,43.43 L49.6,43.96 L51.6,44.49 L53.6,45.02 L55.6,45.54 L57.6,46.06 L59.6,46.58 L61.6,47.10 L63.6,47.61 L65.6,48.12 L67.6,48.63 L69.6,49.14 L71.6,49.64 L73.6,50.14 L75.6,50.64 L77.6,51.14 L79.6,51.63 L81.6,52.12 L83.6,52.61 L85.6,53.10 L87.6,53.59 L89.6,54.07 L91.6,54.55 L93.6,55.03 L95.6,55.51 L97.6,55.99 L99.6,56.46 L101.6,56.94 L103.6,57.41 L105.6,57.88 L107.6,58.35 L109.6,58.81 L111.6,59.28 L113.6,59.74 L115.6,60.21 L117.6,60.67 L119.6,61.13 L121.6,61.59 L123.6,62.05 L125.6,62.51 L127.6,62.96 L129.6,63.42 L131.6,63.87 L133.6,64.33 L135.6,64.78 L137.6,65.23 L139.6,65.69 L141.6,66.14 L143.6,66.59 L145.6,67.04 L147.6,67.49 L149.6,67.94 L151.6,68.39 L153.6,68.83 L155.6,69.28 L157.6,69.73 L159.6,70.18 L161.6,70.63 L163.6,71.08 L165.6,71.52 L167.6,71.97 L169.6,72.42 L171.6,72.87 L173.6,73.32 L175.6,73.76 L177.6,74.21 L179.6,74.66 L181.6,75.11 L183.6,75.56 L185.6,76.01 L187.6,76.46 L189.6,76.91 L191.6,77.37 L193.6,77.82 L195.6,78.27 L197.6,78.73 L199.6,79.18 L201.6,79.64 L203.6,80.10 L205.6,80.56 L207.6,81.02 L209.6,81.48 L211.6,81.94 L213.6,82.40 L215.6,82.86 L217.6,83.33 L219.6,83.80 L221.6,84.26 L223.6,84.73 L225.6,85.21 L227.6,85.68 L229.6,86.15 L231.6,86.63 L233.6,87.11 L235.6,87.59 L237.6,88.07 L239.6,88.55 L241.6,89.04 L243.6,89.52 L245.6,90.01 L247.6,90.50 L249.6,91.00 L251.6,91.49 L253.6,91.99 L255.6,92.49 L257.6,92.99 L259.6,93.50 L261.6,94.00 L263.6,94.51 L265.6,95.03 L267.6,95.54 L269.6,96.06 L271.6,96.58 L273.6,97.10 L275.6,97.63 L277.6,98.16 L279.6,98.69 L281.6,99.22 L283.6,99.76 L285.6,100.30 L287.6,100.84 L289.6,101.39 L291.6,101.94 L293.6,102.49 L295.6,103.05 L297.6,103.61 L299.6,104.17 L301.6,104.74 L303.6,105.31 L305.6,105.88 L307.6,106.46 L309.6,107.04 L311.6,107.62 L313.6,108.21 L315.6,108.81 L317.6,109.40 L319.6,110.00 L321.6,110.61 L323.6,111.21 L325.6,111.83 L327.6,112.44 L329.6,113.06 L331.6,113.69 L333.6,114.31 L335.6,114.95 L337.6,115.58 L339.6,116.23 L341.6,116.87 L343.6,117.52 L345.6,118.18 L347.6,118.84 L349.6,119.50 L351.6,120.17 L353.6,120.85 L355.6,121.53 L357.6,122.21 L359.6,122.90 L361.6,123.59 L363.6,124.29 L365.6,125.00 L367.6,125.70 L369.6,126.42 L371.6,127.14 L373.6,127.86 L375.6,128.59 L377.6,129.33 L379.6,130.07 L381.6,130.82 L383.6,131.57 L385.6,132.32 L387.6,133.09 L389.6,133.86 L391.6,134.63 L393.6,135.41 L395.6,136.20 L397.6,136.99 L399.6,137.79 L401.6,138.59 L403.6,139.40 L405.6,140.22 L407.6,141.04 L409.6,141.87 L411.6,142.70 L413.6,143.54 L415.6,144.39 L417.6,145.25 L419.6,146.11 L421.6,146.97 L423.6,147.85 L425.6,148.73 L427.6,149.61 L429.6,150.51 L431.6,151.41 L433.6,152.31 L435.6,153.23 L437.6,154.15 L439.6,155.07 L441.6,156.01 L443.6,156.95 L445.6,157.90 L447.6,158.86 L449.6,159.82 L451.6,160.79 L453.6,161.77 L455.6,162.75 L457.6,163.74 L459.6,164.74 L461.6,165.75 L463.6,166.77 L465.6,167.79 L467.6,168.82 L469.6,169.86 L471.6,170.91 L473.6,171.97 L475.6,173.03 L477.6,174.11 L479.6,175.19 L481.6,176.28 L483.6,177.38 L485.6,178.49 L487.6,179.61 L489.6,180.74 L491.6,181.88 L493.6,183.03 L495.6,184.19 L497.6,185.35 L499.6,186.53 L501.6,187.72 L503.6,188.92 L505.6,190.13 L507.6,191.35 L509.6,192.58 L511.6,193.82 L513.6,195.07 L515.6,196.33 L517.6,197.61 L519.6,198.89 L521.6,200.19 L523.6,201.51 L525.6,202.84 L527.6,204.19 L529.6,205.56 L531.6,206.95 L533.6,208.36 L535.6,209.80 L537.6,211.27 L539.6,212.76 L541.6,214.28 L543.6,215.83 L545.6,217.41 L547.6,219.03 L549.6,220.68 L551.6,222.37 L553.6,224.09 L555.6,225.86 L557.6,227.67 L559.6,229.52 L561.6,231.41 L563.6,233.35 L565.6,235.33 L567.6,237.35 L569.6,239.41 L571.6,241.51 L573.6,243.64 L575.6,245.81 L577.6,248.01 L579.6,250.25 L581.6,252.51 L583.6,254.80 L585.6,257.12 L587.6,259.47 L589.6,261.84 L591.6,264.24 L593.6,266.65 L595.6,269.09 L597.6,271.54 L599.6,274.01 L601.6,276.50 L603.6,279.01 L605.6,281.52 L607.6,284.05 L609.6,286.59 L611.6,289.13 L613.6,291.69 L615.6,294.25 L617.6,296.81 L619.6,299.38 L621.6,301.95 L623.6,304.51 L625.6,307.08 L627.6,309.65 L629.6,312.21 L631.6,314.76 L633.6,317.31 L635.6,319.85 L637.6,322.37 L639.6,324.89 L641.6,327.39 L643.6,329.88 L645.6,332.35 L647.6,334.81 L649.6,337.24 L651.6,339.66 L653.6,342.05 L655.6,344.42 L657.6,346.76 L659.6,349.07 L661.6,351.36 L663.6,353.61 L665.6,355.84 L667.6,358.03 L669.6,360.18 L671.6,362.30 L673.6,364.38 L675.6,366.42 L677.6,368.42 L679.6,370.38 L681.6,372.29 L683.6,374.15 L685.6,375.97 L687.6,377.74 L689.6,379.46 L691.6,381.13 L693.6,382.74 L695.6,384.30 L697.6,385.80 L699.6,387.24 L701.6,388.62 L703.6,389.94 L705.6,391.20 L707.6,392.40 L709.6,393.54 L711.6,394.63 L713.6,395.67 L715.6,396.65 L717.6,397.58 L719.6,398.46 L721.6,399.29 L723.6,400.08 L725.6,400.82 L727.6,401.51 L729.6,402.17 L731.6,402.78 L733.6,403.35 L735.6,403.89 L737.6,404.39 L739.6,404.85 L741.6,405.28 L743.6,405.68 L745.6,406.05 L747.6,406.39 L749.6,406.70 L751.6,406.98 L753.6,407.24 L755.6,407.48 L757.6,407.69 L759.6,407.89 L761.6,408.06 L763.6,408.22 L765.6,408.36 L767.6,408.49 L769.6,408.61 L771.6,408.71 L773.6,408.80 L775.6,408.89 L777.6,408.97 L779.6,409.04 L781.6,409.11 L783.6,409.18 L785.6,409.24 L787.6,409.31 L789.6,409.38 L791.6,409.45 L793.6,409.52 L795.6,409.60 L797.6,409.69 L799.6,409.79 L801.6,409.90 L803.6,410.03 L805.6,410.16 L807.6,410.31 L809.6,410.48 L811.6,410.67 L813.6,410.87" stroke="#f00000" stroke-width="1.20" fill="none"/>
<path d="M32.6,41.40 L34.6,41.96 L36.6,42.51 L38.6,43.06 L40.6,43.61 L42.6,44.16 L44.6,44.70 L46.6,45.23 L48.6,45.77 L50.6,46.30 L52.6,46.83 L54.6,47.36 L56.6,47.88 L58.6,48.40 L60.6,48.92 L62.6,49.43 L64.6,49.95 L66.6,50.46 L68.6,50.96 L70.6,51.47 L72.6,51.97 L74.6,52.47 L76.6,52.97 L78.6,53.47 L80.6,53.97 L82.6,54.46 L84.6,54.95 L86.6,55.44 L88.6,55.93 L90.6,56.41 L92.6,56.89 L94.6,57.38 L96.6,57.86 L98.6,58.34 L100.6,58.82 L102.6,59.29 L104.6,59.77 L106.6,60.24 L108.6,60.71 L110.6,61.19 L112.6,61.66 L114.6,62.13 L116.6,62.60 L118.6,63.06 L120.6,63.53 L122.6,64.00 L124.6,64.46 L126.6,64.93 L128.6,65.39 L130.6,65.86 L132.6,66.32 L134.6,66.79 L136.6,67.25 L138.6,67.71 L140.6,68.18 L142.6,68.64 L144.6,69.10 L146.6,69.56 L148.6,70.03 L150.6,70.49 L152.6,70.95 L154.6,71.42 L156.6,71.88 L158.6,72.35 L160.6,72.81 L162.6,73.28 L164.6,73.74 L166.6,74.21 L168.6,74.68 L170.6,75.15 L172.6,75.62 L174.6,76.09 L176.6,76.56 L178.6,77.03 L180.6,77.50 L182.6,77.98 L184.6,78.45 L186.6,78.93 L188.6,79.41 L190.6,79.89 L192.6,80.37 L194.6,80.85 L196.6,81.34 L198.6,81.82 L200.6,82.31 L202.6,82.80 L204.6,83.29 L206.6,83.78 L208.6,84.28 L210.6,84.78 L212.6,85.28 L214.6,85.78 L216.6,86.28 L218.6,86.79 L220.6,87.30 L222.6,87.81 L224.6,88.32 L226.6,88.84 L228.6,89.36 L230.6,89.88 L232.6,90.40 L234.6,90.93 L236.6,91.46 L238.6,91.99 L240.6,92.53 L242.6,93.07 L244.6,93.61 L246.6,94.15 L248.6,94.70 L250.6,95.25 L252.6,95.81 L254.6,96.37 L256.6,96.93 L258.6,97.49 L260.6,98.06 L262.6,98.64 L264.6,99.21 L266.6,99.79 L268.6,100.38 L270.6,100.97 L272.6,101.56 L274.6,102.15 L276.6,102.75 L278.6,103.36 L280.6,103.97 L282.6,104.58 L284.6,105.20 L286.6,105.82 L288.6,106.45 L290.6,107.08 L292.6,107.71 L294.6,108.35 L296.6,109.00 L298.6,109.65 L300.6,110.30 L302.6,110.96 L304.6,111.63 L306.6,112.30 L308.6,112.97 L310.6,113.65 L312.6,114.34 L314.6,115.03 L316.6,115.73 L318.6,116.43 L320.6,117.13 L322.6,117.85 L324.6,118.57 L326.6,119.29 L328.6,120.02 L330.6,120.75 L332.6,121.50 L334.6,122.24 L336.6,123.00 L338.6,123.76 L340.6,124.52 L342.6,125.29 L344.6,126.07 L346.6,126.86 L348.6,127.65 L350.6,128.44 L352.6,129.25 L354.6,130.06 L356.6,130.88 L358.6,131.70 L360.6,132.53 L362.6,133.37 L364.6,134.21 L366.6,135.06 L368.6,135.92 L370.6,136.79 L372.6,137.66 L374.6,138.54 L376.6,139.42 L378.6,140.32 L380.6,141.22 L382.6,142.13 L384.6,143.05 L386.6,143.97 L388.6,144.90 L390.6,145.84 L392.6,146.79 L394.6,147.74 L396.6,148.71 L398.6,149.68 L400.6,150.66 L402.6,151.64 L404.6,152.64 L406.6,153.64 L408.6,154.65 L410.6,155.67 L412.6,156.70 L414.6,157.74 L416.6,158.78 L418.6,159.84 L420.6,160.90 L422.6,161.98 L424.6,163.07 L426.6,164.16 L428.6,165.27 L430.6,166.39 L432.6,167.53 L434.6,168.68 L436.6,169.84 L438.6,171.01 L440.6,172.20 L442.6,173.41 L444.6,174.63 L446.6,175.87 L448.6,177.12 L450.6,178.39 L452.6,179.68 L454.6,180.98 L456.6,182.30 L458.6,183.65 L460.6,185.01 L462.6,186.39 L464.6,187.79 L466.6,189.21 L468.6,190.66 L470.6,192.12 L472.6,193.61 L474.6,195.12 L476.6,196.66 L478.6,198.21 L480.6,199.79 L482.6,201.40 L484.6,203.03 L486.6,204.69 L488.6,206.37 L490.6,208.08 L492.6,209.81 L494.6,211.57 L496.6,213.36 L498.6,215.18 L500.6,217.03 L502.6,218.91 L504.6,220.82 L506.6,222.76 L508.6,224.73 L510.6,226.74 L512.6,228.79 L514.6,230.87 L516.6,232.98 L518.6,235.14 L520.6,237.34 L522.6,239.57 L524.6,241.85 L526.6,244.17 L528.6,246.54 L530.6,248.95 L532.6,251.40 L534.6,253.90 L536.6,256.45 L538.6,259.05 L540.6,261.70 L542.6,264.40 L544.6,267.16 L546.6,269.96 L548.6,272.82 L550.6,275.72 L552.6,278.66 L554.6,281.63 L556.6,284.64 L558.6,287.68 L560.6,290.73 L562.6,293.81 L564.6,296.90 L566.6,300.00 L568.6,303.11 L570.6,306.21 L572.6,309.32 L574.6,312.41 L576.6,315.49 L578.6,318.56 L580.6,321.60 L582.6,324.62 L584.6,327.61 L586.6,330.56 L588.6,333.48 L590.6,336.35 L592.6,339.17 L594.6,341.94 L596.6,344.66 L598.6,347.31 L600.6,349.90 L602.6,352.42 L604.6,354.87 L606.6,357.24 L608.6,359.55 L610.6,361.79 L612.6,363.96 L614.6,366.06 L616.6,368.10 L618.6,370.07 L620.6,371.98 L622.6,373.83 L624.6,375.61 L626.6,377.33 L628.6,378.99 L630.6,380.59 L632.6,382.14 L634.6,383.62 L636.6,385.05 L638.6,386.42 L640.6,387.74 L642.6,389.01 L644.6,390.22 L646.6,391.38 L648.6,392.49 L650.6,393.55 L652.6,394.56 L654.6,395.53 L656.6,396.45 L658.6,397.32 L660.6,398.15 L662.6,398.94 L664.6,399.68 L666.6,400.39 L668.6,401.05 L670.6,401.68 L672.6,402.26 L674.6,402.82 L676.6,403.33 L678.6,403.81 L680.6,404.26 L682.6,404.67 L684.6,405.06 L686.6,405.41 L688.6,405.74 L690.6,406.03 L692.6,406.30 L694.6,406.54 L696.6,406.76 L698.6,406.96 L700.6,407.13 L702.6,407.28 L704.6,407.41 L706.6,407.52 L708.6,407.61 L710.6,407.68 L712.6,407.74 L714.6,407.78 L716.6,407.80 L718.6,407.82 L720.6,407.82 L722.6,407.81 L724.6,407.79 L726.6,407.76 L728.6,407.72 L730.6,407.68 L732.6,407.63 L734.6,407.58 L736.6,407.52 L738.6,407.46 L740.6,407.40 L742.6,407.33 L744.6,407.27 L746.6,407.21 L748.6,407.15 L750.6,407.10 L752.6,407.05 L754.6,407.01 L756.6,406.97 L758.6,406.94 L760.6,406.92 L762.6,406.91 L764.6,406.92 L766.6,406.93 L768.6,406.96 L770.6,407.00 L772.6,407.06 L774.6,407.13 L776.6,407.22 L778.6,407.33 L780.6,407.46 L782.6,407.61 L784.6,407.78 L786.6,407.98 L788.6,408.20 L790.6,408.44 L792.6,408.71 L794.6,409.01 L796.6,409.34 L798.6,409.69 L800.6,410.07 L802.6,410.49 L804.6,410.94 L806.6,411.42" stroke="#50fa50" stroke-width="1.00" fill="none"/>
<path d="M35.0,41.30 L37.0,41.86 L39.0,42.41 L41.0,42.96 L43.0,43.51 L45.0,44.06 L47.0,44.60 L49.0,45.13 L51.0,45.67 L53.0,46.20 L55.0,46.73 L57.0,47.26 L59.0,47.78 L61.0,48.30 L63.0,48.82 L65.0,49.33 L67.0,49.85 L69.0,50.36 L71.0,50.86 L73.0,51.37 L75.0,51.87 L77.0,52.37 L79.0,52.87 L81.0,53.37 L83.0,53.87 L85.0,54.36 L87.0,54.85 L89.0,55.34 L91.0,55.83 L93.0,56.31 L95.0,56.79 L97.0,57.28 L99.0,57.76 L101.0,58.24 L103.0,58.72 L105.0,59.19 L107.0,59.67 L109.0,60.14 L111.0,60.61 L113.0,61.09 L115.0,61.56 L117.0,62.03 L119.0,62.50 L121.0,62.96 L123.0,63.43 L125.0,63.90 L127.0,64.36 L129.0,64.83 L131.0,65.29 L133.0,65.76 L135.0,66.22 L137.0,66.69 L139.0,67.15 L141.0,67.61 L143.0,68.08 L145.0,68.54 L147.0,69.00 L149.0,69.46 L151.0,69.93 L153.0,70.39 L155.0,70.85 L157.0,71.32 L159.0,71.78 L161.0,72.25 L163.0,72.71 L165.0,73.18 L167.0,73.64 L169.0,74.11 L171.0,74.58 L173.0,75.05 L175.0,75.52 L177.0,75.99 L179.0,76.46 L181.0,76.93 L183.0,77.40 L185.0,77.88 L187.0,78.35 L189.0,78.83 L191.0,79.31 L193.0,79.79 L195.0,80.27 L197.0,80.75 L199.0,81.24 L201.0,81.72 L203.0,82.21 L205.0,82.70 L207.0,83.19 L209.0,83.68 L211.0,84.18 L213.0,84.68 L215.0,85.18 L217.0,85.68 L219.0,86.18 L221.0,86.69 L223.0,87.20 L225.0,87.71 L227.0,88.22 L229.0,88.74 L231.0,89.26 L233.0,89.78 L235.0,90.30 L237.0,90.83 L239.0,91.36 L241.0,91.89 L243.0,92.43 L245.0,92.97 L247.0,93.51 L249.0,94.05 L251.0,94.60 L253.0,95.15 L255.0,95.71 L257.0,96.27 L259.0,96.83 L261.0,97.39 L263.0,97.96 L265.0,98.54 L267.0,99.11 L269.0,99.69 L271.0,100.28 L273.0,100.87 L275.0,101.46 L277.0,102.05 L279.0,102.65 L281.0,103.26 L283.0,103.87 L285.0,104.48 L287.0,105.10 L289.0,105.72 L291.0,106.35 L293.0,106.98 L295.0,107.61 L297.0,108.25 L299.0,108.90 L301.0,109.55 L303.0,110.20 L305.0,110.86 L307.0,111.53 L309.0,112.20 L311.0,112.87 L313.0,113.55 L315.0,114.24 L317.0,114.93 L319.0,115.63 L321.0,116.33 L323.0,117.03 L325.0,117.75 L327.0,118.47 L329.0,119.19 L331.0,119.92 L333.0,120.65 L335.0,121.40 L337.0,122.14 L339.0,122.90 L341.0,123.66 L343.0,124.42 L345.0,125.19 L347.0,125.97 L349.0,126.76 L351.0,127.55 L353.0,128.34 L355.0,129.15 L357.0,129.96 L359.0,130.78 L361.0,131.60 L363.0,132.43 L365.0,133.27 L367.0,134.11 L369.0,134.96 L371.0,135.82 L373.0,136.69 L375.0,137.56 L377.0,138.44 L379.0,139.32 L381.0,140.22 L383.0,141.12 L385.0,142.03 L387.0,142.95 L389.0,143.87 L391.0,144.80 L393.0,145.74 L395.0,146.69 L397.0,147.64 L399.0,148.61 L401.0,149.58 L403.0,150.56 L405.0,151.54 L407.0,152.54 L409.0,153.54 L411.0,154.55 L413.0,155.57 L415.0,156.60 L417.0,157.64 L419.0,158.68 L421.0,159.74 L423.0,160.80 L425.0,161.88 L427.0,162.97 L429.0,164.06 L431.0,165.17 L433.0,166.29 L435.0,167.43 L437.0,168.58 L439.0,169.74 L441.0,170.91 L443.0,172.10 L445.0,173.31 L447.0,174.53 L449.0,175.77 L451.0,177.02 L453.0,178.29 L455.0,179.58 L457.0,180.88 L459.0,182.20 L461.0,183.55 L463.0,184.91 L465.0,186.29 L467.0,187.69 L469.0,189.11 L471.0,190.56 L473.0,192.02 L475.0,193.51 L477.0,195.02 L479.0,196.56 L481.0,198.11 L483.0,199.69 L485.0,201.30 L487.0,202.93 L489.0,204.59 L491.0,206.27 L493.0,207.98 L495.0,209.71 L497.0,211.47 L499.0,213.26 L501.0,215.08 L503.0,216.93 L505.0,218.81 L507.0,220.72 L509.0,222.66 L511.0,224.63 L513.0,226.64 L515.0,228.69 L517.0,230.77 L519.0,232.88 L521.0,235.04 L523.0,237.24 L525.0,239.47 L527.0,241.75 L529.0,244.07 L531.0,246.44 L533.0,248.85 L535.0,251.30 L537.0,253.80 L539.0,256.35 L541.0,258.95 L543.0,261.60 L545.0,264.30 L547.0,267.06 L549.0,269.86 L551.0,272.72 L553.0,275.62 L555.0,278.56 L557.0,281.53 L559.0,284.54 L561.0,287.58 L563.0,290.63 L565.0,293.71 L567.0,296.80 L569.0,299.90 L571.0,303.01 L573.0,306.11 L575.0,309.22 L577.0,312.31 L579.0,315.39 L581.0,318.46 L583.0,321.50 L585.0,324.52 L587.0,327.51 L589.0,330.46 L591.0,333.38 L593.0,336.25 L595.0,339.07 L597.0,341.84 L599.0,344.56 L601.0,347.21 L603.0,349.80 L605.0,352.32 L607.0,354.77 L609.0,357.14 L611.0,359.45 L613.0,361.69 L615.0,363.86 L617.0,365.96 L619.0,368.00 L621.0,369.97 L623.0,371.88 L625.0,373.73 L627.0,375.51 L629.0,377.23 L631.0,378.89 L633.0,380.49 L635.0,382.04 L637.0,383.52 L639.0,384.95 L641.0,386.32 L643.0,387.64 L645.0,388.91 L647.0,390.12 L649.0,391.28 L651.0,392.39 L653.0,393.45 L655.0,394.46 L657.0,395.43 L659.0,396.35 L661.0,397.22 L663.0,398.05 L665.0,398.84 L667.0,399.58 L669.0,400.29 L671.0,400.95 L673.0,401.58 L675.0,402.16 L677.0,402.72 L679.0,403.23 L681.0,403.71 L683.0,404.16 L685.0,404.57 L687.0,404.96 L689.0,405.31 L691.0,405.64 L693.0,405.93 L695.0,406.20 L697.0,406.44 L699.0,406.66 L701.0,406.86 L703.0,407.03 L705.0,407.18 L707.0,407.31 L709.0,407.42 L711.0,407.51 L713.0,407.58 L715.0,407.64 L717.0,407.68 L719.0,407.70 L721.0,407.72 L723.0,407.72 L725.0,407.71 L727.0,407.69 L729.0,407.66 L731.0,407.62 L733.0,407.58 L735.0,407.53 L737.0,407.48 L739.0,407.42 L741.0,407.36 L743.0,407.30 L745.0,407.23 L747.0,407.17 L749.0,407.11 L751.0,407.05 L753.0,407.00 L755.0,406.95 L757.0,406.91 L759.0,406.87 L761.0,406.84 L763.0,406.82 L765.0,406.81 L767.0,406.82 L769.0,406.83 L771.0,406.86 L773.0,406.90 L775.0,406.96 L777.0,407.03 L779.0,407.12 L781.0,407.23 L783.0,407.36 L785.0,407.51 L787.0,407.68 L789.0,407.88 L791.0,408.10 L793.0,408.34 L795.0,408.61 L797.0,408.91 L799.0,409.24 L801.0,409.59 L803.0,409.97 L805.0,410.39 L807.0,410.84 L809.0,411.32" stroke="#50fa50" stroke-width="1.00" fill="none"/>
<path d="M37.4,41.20 L39.4,41.76 L41.4,42.31 L43.4,42.86 L45.4,43.41 L47.4,43.96 L49.4,44.50 L51.4,45.03 L53.4,45.57 L55.4,46.10 L57.4,46.63 L59.4,47.16 L61.4,47.68 L63.4,48.20 L65.4,48.72 L67.4,49.23 L69.4,49.75 L71.4,50.26 L73.4,50.76 L75.4,51.27 L77.4,51.77 L79.4,52.27 L81.4,52.77 L83.4,53.27 L85.4,53.77 L87.4,54.26 L89.4,54.75 L91.4,55.24 L93.4,55.73 L95.4,56.21 L97.4,56.69 L99.4,57.18 L101.4,57.66 L103.4,58.14 L105.4,58.62 L107.4,59.09 L109.4,59.57 L111.4,60.04 L113.4,60.51 L115.4,60.99 L117.4,61.46 L119.4,61.93 L121.4,62.40 L123.4,62.86 L125.4,63.33 L127.4,63.80 L129.4,64.26 L131.4,64.73 L133.4,65.19 L135.4,65.66 L137.4,66.12 L139.4,66.59 L141.4,67.05 L143.4,67.51 L145.4,67.98 L147.4,68.44 L149.4,68.90 L151.4,69.36 L153.4,69.83 L155.4,70.29 L157.4,70.75 L159.4,71.22 L161.4,71.68 L163.4,72.15 L165.4,72.61 L167.4,73.08 L169.4,73.54 L171.4,74.01 L173.4,74.48 L175.4,74.95 L177.4,75.42 L179.4,75.89 L181.4,76.36 L183.4,76.83 L185.4,77.30 L187.4,77.78 L189.4,78.25 L191.4,78.73 L193.4,79.21 L195.4,79.69 L197.4,80.17 L199.4,80.65 L201.4,81.14 L203.4,81.62 L205.4,82.11 L207.4,82.60 L209.4,83.09 L211.4,83.58 L213.4,84.08 L215.4,84.58 L217.4,85.08 L219.4,85.58 L221.4,86.08 L223.4,86.59 L225.4,87.10 L227.4,87.61 L229.4,88.12 L231.4,88.64 L233.4,89.16 L235.4,89.68 L237.4,90.20 L239.4,90.73 L241.4,91.26 L243.4,91.79 L245.4,92.33 L247.4,92.87 L249.4,93.41 L251.4,93.95 L253.4,94.50 L255.4,95.05 L257.4,95.61 L259.4,96.17 L261.4,96.73 L263.4,97.29 L265.4,97.86 L267.4,98.44 L269.4,99.01 L271.4,99.59 L273.4,100.18 L275.4,100.77 L277.4,101.36 L279.4,101.95 L281.4,102.55 L283.4,103.16 L285.4,103.77 L287.4,104.38 L289.4,105.00 L291.4,105.62 L293.4,106.25 L295.4,106.88 L297.4,107.51 L299.4,108.15 L301.4,108.80 L303.4,109.45 L305.4,110.10 L307.4,110.76 L309.4,111.43 L311.4,112.10 L313.4,112.77 L315.4,113.45 L317.4,114.14 L319.4,114.83 L321.4,115.53 L323.4,116.23 L325.4,116.93 L327.4,117.65 L329.4,118.37 L331.4,119.09 L333.4,119.82 L335.4,120.55 L337.4,121.30 L339.4,122.04 L341.4,122.80 L343.4,123.56 L345.4,124.32 L347.4,125.09 L349.4,125.87 L351.4,126.66 L353.4,127.45 L355.4,128.24 L357.4,129.05 L359.4,129.86 L361.4,130.68 L363.4,131.50 L365.4,132.33 L367.4,133.17 L369.4,134.01 L371.4,134.86 L373.4,135.72 L375.4,136.59 L377.4,137.46 L379.4,138.34 L381.4,139.22 L383.4,140.12 L385.4,141.02 L387.4,141.93 L389.4,142.85 L391.4,143.77 L393.4,144.70 L395.4,145.64 L397.4,146.59 L399.4,147.54 L401.4,148.51 L403.4,149.48 L405.4,150.46 L407.4,151.44 L409.4,152.44 L411.4,153.44 L413.4,154.45 L415.4,155.47 L417.4,156.50 L419.4,157.54 L421.4,158.58 L423.4,159.64 L425.4,160.70 L427.4,161.78 L429.4,162.87 L431.4,163.96 L433.4,165.07 L435.4,166.19 L437.4,167.33 L439.4,168.48 L441.4,169.64 L443.4,170.81 L445.4,172.00 L447.4,173.21 L449.4,174.43 L451.4,175.67 L453.4,176.92 L455.4,178.19 L457.4,179.48 L459.4,180.78 L461.4,182.10 L463.4,183.45 L465.4,184.81 L467.4,186.19 L469.4,187.59 L471.4,189.01 L473.4,190.46 L475.4,191.92 L477.4,193.41 L479.4,194.92 L481.4,196.46 L483.4,198.01 L485.4,199.59 L487.4,201.20 L489.4,202.83 L491.4,204.49 L493.4,206.17 L495.4,207.88 L497.4,209.61 L499.4,211.37 L501.4,213.16 L503.4,214.98 L505.4,216.83 L507.4,218.71 L509.4,220.62 L511.4,222.56 L513.4,224.53 L515.4,226.54 L517.4,228.59 L519.4,230.67 L521.4,232.78 L523.4,234.94 L525.4,237.14 L527.4,239.37 L529.4,241.65 L531.4,243.97 L533.4,246.34 L535.4,248.75 L537.4,251.20 L539.4,253.70 L541.4,256.25 L543.4,258.85 L545.4,261.50 L547.4,264.20 L549.4,266.96 L551.4,269.76 L553.4,272.62 L555.4,275.52 L557.4,278.46 L559.4,281.43 L561.4,284.44 L563.4,287.48 L565.4,290.53 L567.4,293.61 L569.4,296.70 L571.4,299.80 L573.4,302.91 L575.4,306.01 L577.4,309.12 L579.4,312.21 L581.4,315.29 L583.4,318.36 L585.4,321.40 L587.4,324.42 L589.4,327.41 L591.4,330.36 L593.4,333.28 L595.4,336.15 L597.4,338.97 L599.4,341.74 L601.4,344.46 L603.4,347.11 L605.4,349.70 L607.4,352.22 L609.4,354.67 L611.4,357.04 L613.4,359.35 L615.4,361.59 L617.4,363.76 L619.4,365.86 L621.4,367.90 L623.4,369.87 L625.4,371.78 L627.4,373.63 L629.4,375.41 L631.4,377.13 L633.4,378.79 L635.4,380.39 L637.4,381.94 L639.4,383.42 L641.4,384.85 L643.4,386.22 L645.4,387.54 L647.4,388.81 L649.4,390.02 L651.4,391.18 L653.4,392.29 L655.4,393.35 L657.4,394.36 L659.4,395.33 L661.4,396.25 L663.4,397.12 L665.4,397.95 L667.4,398.74 L669.4,399.48 L671.4,400.19 L673.4,400.85 L675.4,401.48 L677.4,402.06 L679.4,402.62 L681.4,403.13 L683.4,403.61 L685.4,404.06 L687.4,404.47 L689.4,404.86 L691.4,405.21 L693.4,405.54 L695.4,405.83 L697.4,406.10 L699.4,406.34 L701.4,406.56 L703.4,406.76 L705.4,406.93 L707.4,407.08 L709.4,407.21 L711.4,407.32 L713.4,407.41 L715.4,407.48 L717.4,407.54 L719.4,407.58 L721.4,407.60 L723.4,407.62 L725.4,407.62 L727.4,407.61 L729.4,407.59 L731.4,407.56 L733.4,407.52 L735.4,407.48 L737.4,407.43 L739.4,407.38 L741.4,407.32 L743.4,407.26 L745.4,407.20 L747.4,407.13 L749.4,407.07 L751.4,407.01 L753.4,406.95 L755.4,406.90 L757.4,406.85 L759.4,406.81 L761.4,406.77 L763.4,406.74 L765.4,406.72 L767.4,406.71 L769.4,406.72 L771.4,406.73 L773.4,406.76 L775.4,406.80 L777.4,406.86 L779.4,406.93 L781.4,407.02 L783.4,407.13 L785.4,407.26 L787.4,407.41 L789.4,407.58 L791.4,407.78 L793.4,408.00 L795.4,408.24 L797.4,408.51 L799.4,408.81 L801.4,409.14 L803.4,409.49 L805.4,409.87 L807.4,410.29 L809.4,410.74 L811.4,411.22" stroke="#50fa50" stroke-width="1.00" fill="none"/>
<path d="M31.4,41.45 L33.4,42.01 L35.4,42.56 L37.4,43.11 L39.4,43.66 L41.4,44.21 L43.4,44.75 L45.4,45.28 L47.4,45.82 L49.4,46.35 L51.4,46.88 L53.4,47.41 L55.4,47.93 L57.4,48.45 L59.4,48.97 L61.4,49.48 L63.4,50.00 L65.4,50.51 L67.4,51.01 L69.4,51.52 L71.4,52.02 L73.4,52.52 L75.4,53.02 L77.4,53.52 L79.4,54.02 L81.4,54.51 L83.4,55.00 L85.4,55.49 L87.4,55.98 L89.4,56.46 L91.4,56.94 L93.4,57.43 L95.4,57.91 L97.4,58.39 L99.4,58.87 L101.4,59.34 L103.4,59.82 L105.4,60.29 L107.4,60.76 L109.4,61.24 L111.4,61.71 L113.4,62.18 L115.4,62.65 L117.4,63.11 L119.4,63.58 L121.4,64.05 L123.4,64.51 L125.4,64.98 L127.4,65.44 L129.4,65.91 L131.4,66.37 L133.4,66.84 L135.4,67.30 L137.4,67.76 L139.4,68.23 L141.4,68.69 L143.4,69.15 L145.4,69.61 L147.4,70.08 L149.4,70.54 L151.4,71.00 L153.4,71.47 L155.4,71.93 L157.4,72.40 L159.4,72.86 L161.4,73.33 L163.4,73.79 L165.4,74.26 L167.4,74.73 L169.4,75.20 L171.4,75.67 L173.4,76.14 L175.4,76.61 L177.4,77.08 L179.4,77.55 L181.4,78.03 L183.4,78.50 L185.4,78.98 L187.4,79.46 L189.4,79.94 L191.4,80.42 L193.4,80.90 L195.4,81.39 L197.4,81.87 L199.4,82.36 L201.4,82.85 L203.4,83.34 L205.4,83.83 L207.4,84.33 L209.4,84.83 L211.4,85.33 L213.4,85.83 L215.4,86.33 L217.4,86.84 L219.4,87.35 L221.4,87.86 L223.4,88.37 L225.4,88.89 L227.4,89.41 L229.4,89.93 L231.4,90.45 L233.4,90.98 L235.4,91.51 L237.4,92.04 L239.4,92.58 L241.4,93.12 L243.4,93.66 L245.4,94.20 L247.4,94.75 L249.4,95.30 L251.4,95.86 L253.4,96.42 L255.4,96.98 L257.4,97.54 L259.4,98.11 L261.4,98.69 L263.4,99.26 L265.4,99.84 L267.4,100.43 L269.4,101.02 L271.4,101.61 L273.4,102.20 L275.4,102.80 L277.4,103.41 L279.4,104.02 L281.4,104.63 L283.4,105.25 L285.4,105.87 L287.4,106.50 L289.4,107.13 L291.4,107.76 L293.4,108.40 L295.4,109.05 L297.4,109.70 L299.4,110.35 L301.4,111.01 L303.4,111.68 L305.4,112.35 L307.4,113.02 L309.4,113.70 L311.4,114.39 L313.4,115.08 L315.4,115.78 L317.4,116.48 L319.4,117.18 L321.4,117.90 L323.4,118.62 L325.4,119.34 L327.4,120.07 L329.4,120.80 L331.4,121.55 L333.4,122.29 L335.4,123.05 L337.4,123.81 L339.4,124.57 L341.4,125.34 L343.4,126.12 L345.4,126.91 L347.4,127.70 L349.4,128.49 L351.4,129.30 L353.4,130.11 L355.4,130.93 L357.4,131.75 L359.4,132.58 L361.4,133.42 L363.4,134.26 L365.4,135.11 L367.4,135.97 L369.4,136.84 L371.4,137.71 L373.4,138.59 L375.4,139.47 L377.4,140.37 L379.4,141.27 L381.4,142.18 L383.4,143.10 L385.4,144.02 L387.4,144.95 L389.4,145.89 L391.4,146.84 L393.4,147.79 L395.4,148.76 L397.4,149.73 L399.4,150.71 L401.4,151.69 L403.4,152.69 L405.4,153.69 L407.4,154.70 L409.4,155.72 L411.4,156.75 L413.4,157.79 L415.4,158.83 L417.4,159.89 L419.4,160.95 L421.4,162.03 L423.4,163.12 L425.4,164.21 L427.4,165.32 L429.4,166.44 L431.4,167.58 L433.4,168.73 L435.4,169.89 L437.4,171.06 L439.4,172.25 L441.4,173.46 L443.4,174.68 L445.4,175.92 L447.4,177.17 L449.4,178.44 L451.4,179.73 L453.4,181.03 L455.4,182.35 L457.4,183.70 L459.4,185.06 L461.4,186.44 L463.4,187.84 L465.4,189.26 L467.4,190.71 L469.4,192.17 L471.4,193.66 L473.4,195.17 L475.4,196.71 L477.4,198.26 L479.4,199.84 L481.4,201.45 L483.4,203.08 L485.4,204.74 L487.4,206.42 L489.4,208.13 L491.4,209.86 L493.4,211.62 L495.4,213.41 L497.4,215.23 L499.4,217.08 L501.4,218.96 L503.4,220.87 L505.4,222.81 L507.4,224.78 L509.4,226.79 L511.4,228.84 L513.4,230.92 L515.4,233.03 L517.4,235.19 L519.4,237.39 L521.4,239.62 L523.4,241.90 L525.4,244.22 L527.4,246.59 L529.4,249.00 L531.4,251.45 L533.4,253.95 L535.4,256.50 L537.4,259.10 L539.4,261.75 L541.4,264.45 L543.4,267.21 L545.4,270.01 L547.4,272.87 L549.4,275.77 L551.4,278.71 L553.4,281.68 L555.4,284.69 L557.4,287.73 L559.4,290.78 L561.4,293.86 L563.4,296.95 L565.4,300.05 L567.4,303.16 L569.4,306.26 L571.4,309.37 L573.4,312.46 L575.4,315.54 L577.4,318.61 L579.4,321.65 L581.4,324.67 L583.4,327.66 L585.4,330.61 L587.4,333.53 L589.4,336.40 L591.4,339.22 L593.4,341.99 L595.4,344.71 L597.4,347.36 L599.4,349.95 L601.4,352.47 L603.4,354.92 L605.4,357.29 L607.4,359.60 L609.4,361.84 L611.4,364.01 L613.4,366.11 L615.4,368.15 L617.4,370.12 L619.4,372.03 L621.4,373.88 L623.4,375.66 L625.4,377.38 L627.4,379.04 L629.4,380.64 L631.4,382.19 L633.4,383.67 L635.4,385.10 L637.4,386.47 L639.4,387.79 L641.4,389.06 L643.4,390.27 L645.4,391.43 L647.4,392.54 L649.4,393.60 L651.4,394.61 L653.4,395.58 L655.4,396.50 L657.4,397.37 L659.4,398.20 L661.4,398.99 L663.4,399.73 L665.4,400.44 L667.4,401.10 L669.4,401.73 L671.4,402.31 L673.4,402.87 L675.4,403.38 L677.4,403.86 L679.4,404.31 L681.4,404.72 L683.4,405.11 L685.4,405.46 L687.4,405.79 L689.4,406.08 L691.4,406.35 L693.4,406.59 L695.4,406.81 L697.4,407.01 L699.4,407.18 L701.4,407.33 L703.4,407.46 L705.4,407.57 L707.4,407.66 L709.4,407.73 L711.4,407.79 L713.4,407.83 L715.4,407.85 L717.4,407.87 L719.4,407.87 L721.4,407.86 L723.4,407.84 L725.4,407.81 L727.4,407.77 L729.4,407.73 L731.4,407.68 L733.4,407.63 L735.4,407.57 L737.4,407.51 L739.4,407.45 L741.4,407.38 L743.4,407.32 L745.4,407.26 L747.4,407.20 L749.4,407.15 L751.4,407.10 L753.4,407.06 L755.4,407.02 L757.4,406.99 L759.4,406.97 L761.4,406.96 L763.4,406.97 L765.4,406.98 L767.4,407.01 L769.4,407.05 L771.4,407.11 L773.4,407.18 L775.4,407.27 L777.4,407.38 L779.4,407.51 L781.4,407.66 L783.4,407.83 L785.4,408.03 L787.4,408.25 L789.4,408.49 L791.4,408.76 L793.4,409.06 L795.4,409.39 L797.4,409.74 L799.4,410.12 L801.4,410.54 L803.4,410.99 L805.4,411.47" stroke="#00e400" stroke-width="0.95" fill="none"/>
<path d="M33.8,41.35 L35.8,41.91 L37.8,42.46 L39.8,43.01 L41.8,43.56 L43.8,44.11 L45.8,44.65 L47.8,45.18 L49.8,45.72 L51.8,46.25 L53.8,46.78 L55.8,47.31 L57.8,47.83 L59.8,48.35 L61.8,48.87 L63.8,49.38 L65.8,49.90 L67.8,50.41 L69.8,50.91 L71.8,51.42 L73.8,51.92 L75.8,52.42 L77.8,52.92 L79.8,53.42 L81.8,53.92 L83.8,54.41 L85.8,54.90 L87.8,55.39 L89.8,55.88 L91.8,56.36 L93.8,56.84 L95.8,57.33 L97.8,57.81 L99.8,58.29 L101.8,58.77 L103.8,59.24 L105.8,59.72 L107.8,60.19 L109.8,60.66 L111.8,61.14 L113.8,61.61 L115.8,62.08 L117.8,62.55 L119.8,63.01 L121.8,63.48 L123.8,63.95 L125.8,64.41 L127.8,64.88 L129.8,65.34 L131.8,65.81 L133.8,66.27 L135.8,66.74 L137.8,67.20 L139.8,67.66 L141.8,68.13 L143.8,68.59 L145.8,69.05 L147.8,69.51 L149.8,69.98 L151.8,70.44 L153.8,70.90 L155.8,71.37 L157.8,71.83 L159.8,72.30 L161.8,72.76 L163.8,73.23 L165.8,73.69 L167.8,74.16 L169.8,74.63 L171.8,75.10 L173.8,75.57 L175.8,76.04 L177.8,76.51 L179.8,76.98 L181.8,77.45 L183.8,77.93 L185.8,78.40 L187.8,78.88 L189.8,79.36 L191.8,79.84 L193.8,80.32 L195.8,80.80 L197.8,81.29 L199.8,81.77 L201.8,82.26 L203.8,82.75 L205.8,83.24 L207.8,83.73 L209.8,84.23 L211.8,84.73 L213.8,85.23 L215.8,85.73 L217.8,86.23 L219.8,86.74 L221.8,87.25 L223.8,87.76 L225.8,88.27 L227.8,88.79 L229.8,89.31 L231.8,89.83 L233.8,90.35 L235.8,90.88 L237.8,91.41 L239.8,91.94 L241.8,92.48 L243.8,93.02 L245.8,93.56 L247.8,94.10 L249.8,94.65 L251.8,95.20 L253.8,95.76 L255.8,96.32 L257.8,96.88 L259.8,97.44 L261.8,98.01 L263.8,98.59 L265.8,99.16 L267.8,99.74 L269.8,100.33 L271.8,100.92 L273.8,101.51 L275.8,102.10 L277.8,102.70 L279.8,103.31 L281.8,103.92 L283.8,104.53 L285.8,105.15 L287.8,105.77 L289.8,106.40 L291.8,107.03 L293.8,107.66 L295.8,108.30 L297.8,108.95 L299.8,109.60 L301.8,110.25 L303.8,110.91 L305.8,111.58 L307.8,112.25 L309.8,112.92 L311.8,113.60 L313.8,114.29 L315.8,114.98 L317.8,115.68 L319.8,116.38 L321.8,117.08 L323.8,117.80 L325.8,118.52 L327.8,119.24 L329.8,119.97 L331.8,120.70 L333.8,121.45 L335.8,122.19 L337.8,122.95 L339.8,123.71 L341.8,124.47 L343.8,125.24 L345.8,126.02 L347.8,126.81 L349.8,127.60 L351.8,128.39 L353.8,129.20 L355.8,130.01 L357.8,130.83 L359.8,131.65 L361.8,132.48 L363.8,133.32 L365.8,134.16 L367.8,135.01 L369.8,135.87 L371.8,136.74 L373.8,137.61 L375.8,138.49 L377.8,139.37 L379.8,140.27 L381.8,141.17 L383.8,142.08 L385.8,143.00 L387.8,143.92 L389.8,144.85 L391.8,145.79 L393.8,146.74 L395.8,147.69 L397.8,148.66 L399.8,149.63 L401.8,150.61 L403.8,151.59 L405.8,152.59 L407.8,153.59 L409.8,154.60 L411.8,155.62 L413.8,156.65 L415.8,157.69 L417.8,158.73 L419.8,159.79 L421.8,160.85 L423.8,161.93 L425.8,163.02 L427.8,164.11 L429.8,165.22 L431.8,166.34 L433.8,167.48 L435.8,168.63 L437.8,169.79 L439.8,170.96 L441.8,172.15 L443.8,173.36 L445.8,174.58 L447.8,175.82 L449.8,177.07 L451.8,178.34 L453.8,179.63 L455.8,180.93 L457.8,182.25 L459.8,183.60 L461.8,184.96 L463.8,186.34 L465.8,187.74 L467.8,189.16 L469.8,190.61 L471.8,192.07 L473.8,193.56 L475.8,195.07 L477.8,196.61 L479.8,198.16 L481.8,199.74 L483.8,201.35 L485.8,202.98 L487.8,204.64 L489.8,206.32 L491.8,208.03 L493.8,209.76 L495.8,211.52 L497.8,213.31 L499.8,215.13 L501.8,216.98 L503.8,218.86 L505.8,220.77 L507.8,222.71 L509.8,224.68 L511.8,226.69 L513.8,228.74 L515.8,230.82 L517.8,232.93 L519.8,235.09 L521.8,237.29 L523.8,239.52 L525.8,241.80 L527.8,244.12 L529.8,246.49 L531.8,248.90 L533.8,251.35 L535.8,253.85 L537.8,256.40 L539.8,259.00 L541.8,261.65 L543.8,264.35 L545.8,267.11 L547.8,269.91 L549.8,272.77 L551.8,275.67 L553.8,278.61 L555.8,281.58 L557.8,284.59 L559.8,287.63 L561.8,290.68 L563.8,293.76 L565.8,296.85 L567.8,299.95 L569.8,303.06 L571.8,306.16 L573.8,309.27 L575.8,312.36 L577.8,315.44 L579.8,318.51 L581.8,321.55 L583.8,324.57 L585.8,327.56 L587.8,330.51 L589.8,333.43 L591.8,336.30 L593.8,339.12 L595.8,341.89 L597.8,344.61 L599.8,347.26 L601.8,349.85 L603.8,352.37 L605.8,354.82 L607.8,357.19 L609.8,359.50 L611.8,361.74 L613.8,363.91 L615.8,366.01 L617.8,368.05 L619.8,370.02 L621.8,371.93 L623.8,373.78 L625.8,375.56 L627.8,377.28 L629.8,378.94 L631.8,380.54 L633.8,382.09 L635.8,383.57 L637.8,385.00 L639.8,386.37 L641.8,387.69 L643.8,388.96 L645.8,390.17 L647.8,391.33 L649.8,392.44 L651.8,393.50 L653.8,394.51 L655.8,395.48 L657.8,396.40 L659.8,397.27 L661.8,398.10 L663.8,398.89 L665.8,399.63 L667.8,400.34 L669.8,401.00 L671.8,401.63 L673.8,402.21 L675.8,402.77 L677.8,403.28 L679.8,403.76 L681.8,404.21 L683.8,404.62 L685.8,405.01 L687.8,405.36 L689.8,405.69 L691.8,405.98 L693.8,406.25 L695.8,406.49 L697.8,406.71 L699.8,406.91 L701.8,407.08 L703.8,407.23 L705.8,407.36 L707.8,407.47 L709.8,407.56 L711.8,407.63 L713.8,407.69 L715.8,407.73 L717.8,407.75 L719.8,407.77 L721.8,407.77 L723.8,407.76 L725.8,407.74 L727.8,407.71 L729.8,407.67 L731.8,407.63 L733.8,407.58 L735.8,407.53 L737.8,407.47 L739.8,407.41 L741.8,407.35 L743.8,407.28 L745.8,407.22 L747.8,407.16 L749.8,407.10 L751.8,407.05 L753.8,407.00 L755.8,406.96 L757.8,406.92 L759.8,406.89 L761.8,406.87 L763.8,406.86 L765.8,406.87 L767.8,406.88 L769.8,406.91 L771.8,406.95 L773.8,407.01 L775.8,407.08 L777.8,407.17 L779.8,407.28 L781.8,407.41 L783.8,407.56 L785.8,407.73 L787.8,407.93 L789.8,408.15 L791.8,408.39 L793.8,408.66 L795.8,408.96 L797.8,409.29 L799.8,409.64 L801.8,410.02 L803.8,410.44 L805.8,410.89 L807.8,411.37" stroke="#00e400" stroke-width="0.95" fill="none"/>
<path d="M36.2,41.25 L38.2,41.81 L40.2,42.36 L42.2,42.91 L44.2,43.46 L46.2,44.01 L48.2,44.55 L50.2,45.08 L52.2,45.62 L54.2,46.15 L56.2,46.68 L58.2,47.21 L60.2,47.73 L62.2,48.25 L64.2,48.77 L66.2,49.28 L68.2,49.80 L70.2,50.31 L72.2,50.81 L74.2,51.32 L76.2,51.82 L78.2,52.32 L80.2,52.82 L82.2,53.32 L84.2,53.82 L86.2,54.31 L88.2,54.80 L90.2,55.29 L92.2,55.78 L94.2,56.26 L96.2,56.74 L98.2,57.23 L100.2,57.71 L102.2,58.19 L104.2,58.67 L106.2,59.14 L108.2,59.62 L110.2,60.09 L112.2,60.56 L114.2,61.04 L116.2,61.51 L118.2,61.98 L120.2,62.45 L122.2,62.91 L124.2,63.38 L126.2,63.85 L128.2,64.31 L130.2,64.78 L132.2,65.24 L134.2,65.71 L136.2,66.17 L138.2,66.64 L140.2,67.10 L142.2,67.56 L144.2,68.03 L146.2,68.49 L148.2,68.95 L150.2,69.41 L152.2,69.88 L154.2,70.34 L156.2,70.80 L158.2,71.27 L160.2,71.73 L162.2,72.20 L164.2,72.66 L166.2,73.13 L168.2,73.59 L170.2,74.06 L172.2,74.53 L174.2,75.00 L176.2,75.47 L178.2,75.94 L180.2,76.41 L182.2,76.88 L184.2,77.35 L186.2,77.83 L188.2,78.30 L190.2,78.78 L192.2,79.26 L194.2,79.74 L196.2,80.22 L198.2,80.70 L200.2,81.19 L202.2,81.67 L204.2,82.16 L206.2,82.65 L208.2,83.14 L210.2,83.63 L212.2,84.13 L214.2,84.63 L216.2,85.13 L218.2,85.63 L220.2,86.13 L222.2,86.64 L224.2,87.15 L226.2,87.66 L228.2,88.17 L230.2,88.69 L232.2,89.21 L234.2,89.73 L236.2,90.25 L238.2,90.78 L240.2,91.31 L242.2,91.84 L244.2,92.38 L246.2,92.92 L248.2,93.46 L250.2,94.00 L252.2,94.55 L254.2,95.10 L256.2,95.66 L258.2,96.22 L260.2,96.78 L262.2,97.34 L264.2,97.91 L266.2,98.49 L268.2,99.06 L270.2,99.64 L272.2,100.23 L274.2,100.82 L276.2,101.41 L278.2,102.00 L280.2,102.60 L282.2,103.21 L284.2,103.82 L286.2,104.43 L288.2,105.05 L290.2,105.67 L292.2,106.30 L294.2,106.93 L296.2,107.56 L298.2,108.20 L300.2,108.85 L302.2,109.50 L304.2,110.15 L306.2,110.81 L308.2,111.48 L310.2,112.15 L312.2,112.82 L314.2,113.50 L316.2,114.19 L318.2,114.88 L320.2,115.58 L322.2,116.28 L324.2,116.98 L326.2,117.70 L328.2,118.42 L330.2,119.14 L332.2,119.87 L334.2,120.60 L336.2,121.35 L338.2,122.09 L340.2,122.85 L342.2,123.61 L344.2,124.37 L346.2,125.14 L348.2,125.92 L350.2,126.71 L352.2,127.50 L354.2,128.29 L356.2,129.10 L358.2,129.91 L360.2,130.73 L362.2,131.55 L364.2,132.38 L366.2,133.22 L368.2,134.06 L370.2,134.91 L372.2,135.77 L374.2,136.64 L376.2,137.51 L378.2,138.39 L380.2,139.27 L382.2,140.17 L384.2,141.07 L386.2,141.98 L388.2,142.90 L390.2,143.82 L392.2,144.75 L394.2,145.69 L396.2,146.64 L398.2,147.59 L400.2,148.56 L402.2,149.53 L404.2,150.51 L406.2,151.49 L408.2,152.49 L410.2,153.49 L412.2,154.50 L414.2,155.52 L416.2,156.55 L418.2,157.59 L420.2,158.63 L422.2,159.69 L424.2,160.75 L426.2,161.83 L428.2,162.92 L430.2,164.01 L432.2,165.12 L434.2,166.24 L436.2,167.38 L438.2,168.53 L440.2,169.69 L442.2,170.86 L444.2,172.05 L446.2,173.26 L448.2,174.48 L450.2,175.72 L452.2,176.97 L454.2,178.24 L456.2,179.53 L458.2,180.83 L460.2,182.15 L462.2,183.50 L464.2,184.86 L466.2,186.24 L468.2,187.64 L470.2,189.06 L472.2,190.51 L474.2,191.97 L476.2,193.46 L478.2,194.97 L480.2,196.51 L482.2,198.06 L484.2,199.64 L486.2,201.25 L488.2,202.88 L490.2,204.54 L492.2,206.22 L494.2,207.93 L496.2,209.66 L498.2,211.42 L500.2,213.21 L502.2,215.03 L504.2,216.88 L506.2,218.76 L508.2,220.67 L510.2,222.61 L512.2,224.58 L514.2,226.59 L516.2,228.64 L518.2,230.72 L520.2,232.83 L522.2,234.99 L524.2,237.19 L526.2,239.42 L528.2,241.70 L530.2,244.02 L532.2,246.39 L534.2,248.80 L536.2,251.25 L538.2,253.75 L540.2,256.30 L542.2,258.90 L544.2,261.55 L546.2,264.25 L548.2,267.01 L550.2,269.81 L552.2,272.67 L554.2,275.57 L556.2,278.51 L558.2,281.48 L560.2,284.49 L562.2,287.53 L564.2,290.58 L566.2,293.66 L568.2,296.75 L570.2,299.85 L572.2,302.96 L574.2,306.06 L576.2,309.17 L578.2,312.26 L580.2,315.34 L582.2,318.41 L584.2,321.45 L586.2,324.47 L588.2,327.46 L590.2,330.41 L592.2,333.33 L594.2,336.20 L596.2,339.02 L598.2,341.79 L600.2,344.51 L602.2,347.16 L604.2,349.75 L606.2,352.27 L608.2,354.72 L610.2,357.09 L612.2,359.40 L614.2,361.64 L616.2,363.81 L618.2,365.91 L620.2,367.95 L622.2,369.92 L624.2,371.83 L626.2,373.68 L628.2,375.46 L630.2,377.18 L632.2,378.84 L634.2,380.44 L636.2,381.99 L638.2,383.47 L640.2,384.90 L642.2,386.27 L644.2,387.59 L646.2,388.86 L648.2,390.07 L650.2,391.23 L652.2,392.34 L654.2,393.40 L656.2,394.41 L658.2,395.38 L660.2,396.30 L662.2,397.17 L664.2,398.00 L666.2,398.79 L668.2,399.53 L670.2,400.24 L672.2,400.90 L674.2,401.53 L676.2,402.11 L678.2,402.67 L680.2,403.18 L682.2,403.66 L684.2,404.11 L686.2,404.52 L688.2,404.91 L690.2,405.26 L692.2,405.59 L694.2,405.88 L696.2,406.15 L698.2,406.39 L700.2,406.61 L702.2,406.81 L704.2,406.98 L706.2,407.13 L708.2,407.26 L710.2,407.37 L712.2,407.46 L714.2,407.53 L716.2,407.59 L718.2,407.63 L720.2,407.65 L722.2,407.67 L724.2,407.67 L726.2,407.66 L728.2,407.64 L730.2,407.61 L732.2,407.57 L734.2,407.53 L736.2,407.48 L738.2,407.43 L740.2,407.37 L742.2,407.31 L744.2,407.25 L746.2,407.18 L748.2,407.12 L750.2,407.06 L752.2,407.00 L754.2,406.95 L756.2,406.90 L758.2,406.86 L760.2,406.82 L762.2,406.79 L764.2,406.77 L766.2,406.76 L768.2,406.77 L770.2,406.78 L772.2,406.81 L774.2,406.85 L776.2,406.91 L778.2,406.98 L780.2,407.07 L782.2,407.18 L784.2,407.31 L786.2,407.46 L788.2,407.63 L790.2,407.83 L792.2,408.05 L794.2,408.29 L796.2,408.56 L798.2,408.86 L800.2,409.19 L802.2,409.54 L804.2,409.92 L806.2,410.34 L808.2,410.79 L810.2,411.27" stroke="#00e400" stroke-width="0.95" fill="none"/>
<path d="M38.6,41.15 L40.6,41.71 L42.6,42.26 L44.6,42.81 L46.6,43.36 L48.6,43.91 L50.6,44.45 L52.6,44.98 L54.6,45.52 L56.6,46.05 L58.6,46.58 L60.6,47.11 L62.6,47.63 L64.6,48.15 L66.6,48.67 L68.6,49.18 L70.6,49.70 L72.6,50.21 L74.6,50.71 L76.6,51.22 L78.6,51.72 L80.6,52.22 L82.6,52.72 L84.6,53.22 L86.6,53.72 L88.6,54.21 L90.6,54.70 L92.6,55.19 L94.6,55.68 L96.6,56.16 L98.6,56.64 L100.6,57.13 L102.6,57.61 L104.6,58.09 L106.6,58.57 L108.6,59.04 L110.6,59.52 L112.6,59.99 L114.6,60.46 L116.6,60.94 L118.6,61.41 L120.6,61.88 L122.6,62.35 L124.6,62.81 L126.6,63.28 L128.6,63.75 L130.6,64.21 L132.6,64.68 L134.6,65.14 L136.6,65.61 L138.6,66.07 L140.6,66.54 L142.6,67.00 L144.6,67.46 L146.6,67.93 L148.6,68.39 L150.6,68.85 L152.6,69.31 L154.6,69.78 L156.6,70.24 L158.6,70.70 L160.6,71.17 L162.6,71.63 L164.6,72.10 L166.6,72.56 L168.6,73.03 L170.6,73.49 L172.6,73.96 L174.6,74.43 L176.6,74.90 L178.6,75.37 L180.6,75.84 L182.6,76.31 L184.6,76.78 L186.6,77.25 L188.6,77.73 L190.6,78.20 L192.6,78.68 L194.6,79.16 L196.6,79.64 L198.6,80.12 L200.6,80.60 L202.6,81.09 L204.6,81.57 L206.6,82.06 L208.6,82.55 L210.6,83.04 L212.6,83.53 L214.6,84.03 L216.6,84.53 L218.6,85.03 L220.6,85.53 L222.6,86.03 L224.6,86.54 L226.6,87.05 L228.6,87.56 L230.6,88.07 L232.6,88.59 L234.6,89.11 L236.6,89.63 L238.6,90.15 L240.6,90.68 L242.6,91.21 L244.6,91.74 L246.6,92.28 L248.6,92.82 L250.6,93.36 L252.6,93.90 L254.6,94.45 L256.6,95.00 L258.6,95.56 L260.6,96.12 L262.6,96.68 L264.6,97.24 L266.6,97.81 L268.6,98.39 L270.6,98.96 L272.6,99.54 L274.6,100.13 L276.6,100.72 L278.6,101.31 L280.6,101.90 L282.6,102.50 L284.6,103.11 L286.6,103.72 L288.6,104.33 L290.6,104.95 L292.6,105.57 L294.6,106.20 L296.6,106.83 L298.6,107.46 L300.6,108.10 L302.6,108.75 L304.6,109.40 L306.6,110.05 L308.6,110.71 L310.6,111.38 L312.6,112.05 L314.6,112.72 L316.6,113.40 L318.6,114.09 L320.6,114.78 L322.6,115.48 L324.6,116.18 L326.6,116.88 L328.6,117.60 L330.6,118.32 L332.6,119.04 L334.6,119.77 L336.6,120.50 L338.6,121.25 L340.6,121.99 L342.6,122.75 L344.6,123.51 L346.6,124.27 L348.6,125.04 L350.6,125.82 L352.6,126.61 L354.6,127.40 L356.6,128.19 L358.6,129.00 L360.6,129.81 L362.6,130.63 L364.6,131.45 L366.6,132.28 L368.6,133.12 L370.6,133.96 L372.6,134.81 L374.6,135.67 L376.6,136.54 L378.6,137.41 L380.6,138.29 L382.6,139.17 L384.6,140.07 L386.6,140.97 L388.6,141.88 L390.6,142.80 L392.6,143.72 L394.6,144.65 L396.6,145.59 L398.6,146.54 L400.6,147.49 L402.6,148.46 L404.6,149.43 L406.6,150.41 L408.6,151.39 L410.6,152.39 L412.6,153.39 L414.6,154.40 L416.6,155.42 L418.6,156.45 L420.6,157.49 L422.6,158.53 L424.6,159.59 L426.6,160.65 L428.6,161.73 L430.6,162.82 L432.6,163.91 L434.6,165.02 L436.6,166.14 L438.6,167.28 L440.6,168.43 L442.6,169.59 L444.6,170.76 L446.6,171.95 L448.6,173.16 L450.6,174.38 L452.6,175.62 L454.6,176.87 L456.6,178.14 L458.6,179.43 L460.6,180.73 L462.6,182.05 L464.6,183.40 L466.6,184.76 L468.6,186.14 L470.6,187.54 L472.6,188.96 L474.6,190.41 L476.6,191.87 L478.6,193.36 L480.6,194.87 L482.6,196.41 L484.6,197.96 L486.6,199.54 L488.6,201.15 L490.6,202.78 L492.6,204.44 L494.6,206.12 L496.6,207.83 L498.6,209.56 L500.6,211.32 L502.6,213.11 L504.6,214.93 L506.6,216.78 L508.6,218.66 L510.6,220.57 L512.6,222.51 L514.6,224.48 L516.6,226.49 L518.6,228.54 L520.6,230.62 L522.6,232.73 L524.6,234.89 L526.6,237.09 L528.6,239.32 L530.6,241.60 L532.6,243.92 L534.6,246.29 L536.6,248.70 L538.6,251.15 L540.6,253.65 L542.6,256.20 L544.6,258.80 L546.6,261.45 L548.6,264.15 L550.6,266.91 L552.6,269.71 L554.6,272.57 L556.6,275.47 L558.6,278.41 L560.6,281.38 L562.6,284.39 L564.6,287.43 L566.6,290.48 L568.6,293.56 L570.6,296.65 L572.6,299.75 L574.6,302.86 L576.6,305.96 L578.6,309.07 L580.6,312.16 L582.6,315.24 L584.6,318.31 L586.6,321.35 L588.6,324.37 L590.6,327.36 L592.6,330.31 L594.6,333.23 L596.6,336.10 L598.6,338.92 L600.6,341.69 L602.6,344.41 L604.6,347.06 L606.6,349.65 L608.6,352.17 L610.6,354.62 L612.6,356.99 L614.6,359.30 L616.6,361.54 L618.6,363.71 L620.6,365.81 L622.6,367.85 L624.6,369.82 L626.6,371.73 L628.6,373.58 L630.6,375.36 L632.6,377.08 L634.6,378.74 L636.6,380.34 L638.6,381.89 L640.6,383.37 L642.6,384.80 L644.6,386.17 L646.6,387.49 L648.6,388.76 L650.6,389.97 L652.6,391.13 L654.6,392.24 L656.6,393.30 L658.6,394.31 L660.6,395.28 L662.6,396.20 L664.6,397.07 L666.6,397.90 L668.6,398.69 L670.6,399.43 L672.6,400.14 L674.6,400.80 L676.6,401.43 L678.6,402.01 L680.6,402.57 L682.6,403.08 L684.6,403.56 L686.6,404.01 L688.6,404.42 L690.6,404.81 L692.6,405.16 L694.6,405.49 L696.6,405.78 L698.6,406.05 L700.6,406.29 L702.6,406.51 L704.6,406.71 L706.6,406.88 L708.6,407.03 L710.6,407.16 L712.6,407.27 L714.6,407.36 L716.6,407.43 L718.6,407.49 L720.6,407.53 L722.6,407.55 L724.6,407.57 L726.6,407.57 L728.6,407.56 L730.6,407.54 L732.6,407.51 L734.6,407.47 L736.6,407.43 L738.6,407.38 L740.6,407.33 L742.6,407.27 L744.6,407.21 L746.6,407.15 L748.6,407.08 L750.6,407.02 L752.6,406.96 L754.6,406.90 L756.6,406.85 L758.6,406.80 L760.6,406.76 L762.6,406.72 L764.6,406.69 L766.6,406.67 L768.6,406.66 L770.6,406.67 L772.6,406.68 L774.6,406.71 L776.6,406.75 L778.6,406.81 L780.6,406.88 L782.6,406.97 L784.6,407.08 L786.6,407.21 L788.6,407.36 L790.6,407.53 L792.6,407.73 L794.6,407.95 L796.6,408.19 L798.6,408.46 L800.6,408.76 L802.6,409.09 L804.6,409.44 L806.6,409.82 L808.6,410.24 L810.6,410.69 L812.6,411.17" stroke="#00e400" stroke-width="0.95" fill="none"/>
<path d="M32.9,41.67 L34.9,42.17 L36.9,42.67 L38.9,43.17 L40.9,43.67 L42.9,44.17 L44.9,44.67 L46.9,45.17 L48.9,45.66 L50.9,46.16 L52.9,46.66 L54.9,47.15 L56.9,47.64 L58.9,48.14 L60.9,48.63 L62.9,49.12 L64.9,49.62 L66.9,50.11 L68.9,50.60 L70.9,51.09 L72.9,51.58 L74.9,52.07 L76.9,52.56 L78.9,53.05 L80.9,53.54 L82.9,54.04 L84.9,54.53 L86.9,55.02 L88.9,55.51 L90.9,56.00 L92.9,56.49 L94.9,56.98 L96.9,57.47 L98.9,57.97 L100.9,58.46 L102.9,58.95 L104.9,59.44 L106.9,59.94 L108.9,60.43 L110.9,60.93 L112.9,61.42 L114.9,61.92 L116.9,62.42 L118.9,62.91 L120.9,63.41 L122.9,63.91 L124.9,64.41 L126.9,64.91 L128.9,65.41 L130.9,65.92 L132.9,66.42 L134.9,66.93 L136.9,67.43 L138.9,67.94 L140.9,68.45 L142.9,68.96 L144.9,69.47 L146.9,69.98 L148.9,70.50 L150.9,71.01 L152.9,71.53 L154.9,72.05 L156.9,72.57 L158.9,73.09 L160.9,73.62 L162.9,74.14 L164.9,74.67 L166.9,75.20 L168.9,75.73 L170.9,76.26 L172.9,76.80 L174.9,77.33 L176.9,77.87 L178.9,78.41 L180.9,78.95 L182.9,79.50 L184.9,80.05 L186.9,80.60 L188.9,81.15 L190.9,81.70 L192.9,82.26 L194.9,82.82 L196.9,83.38 L198.9,83.94 L200.9,84.51 L202.9,85.08 L204.9,85.65 L206.9,86.22 L208.9,86.80 L210.9,87.38 L212.9,87.96 L214.9,88.54 L216.9,89.13 L218.9,89.72 L220.9,90.32 L222.9,90.91 L224.9,91.51 L226.9,92.12 L228.9,92.72 L230.9,93.33 L232.9,93.94 L234.9,94.56 L236.9,95.18 L238.9,95.80 L240.9,96.43 L242.9,97.06 L244.9,97.69 L246.9,98.32 L248.9,98.96 L250.9,99.61 L252.9,100.25 L254.9,100.91 L256.9,101.56 L258.9,102.22 L260.9,102.88 L262.9,103.55 L264.9,104.22 L266.9,104.89 L268.9,105.57 L270.9,106.25 L272.9,106.94 L274.9,107.63 L276.9,108.32 L278.9,109.02 L280.9,109.72 L282.9,110.43 L284.9,111.14 L286.9,111.86 L288.9,112.58 L290.9,113.31 L292.9,114.04 L294.9,114.78 L296.9,115.53 L298.9,116.28 L300.9,117.03 L302.9,117.79 L304.9,118.56 L306.9,119.34 L308.9,120.12 L310.9,120.91 L312.9,121.70 L314.9,122.50 L316.9,123.31 L318.9,124.13 L320.9,124.95 L322.9,125.78 L324.9,126.62 L326.9,127.46 L328.9,128.32 L330.9,129.18 L332.9,130.05 L334.9,130.93 L336.9,131.81 L338.9,132.71 L340.9,133.61 L342.9,134.53 L344.9,135.45 L346.9,136.38 L348.9,137.32 L350.9,138.27 L352.9,139.23 L354.9,140.20 L356.9,141.18 L358.9,142.17 L360.9,143.17 L362.9,144.18 L364.9,145.20 L366.9,146.23 L368.9,147.27 L370.9,148.33 L372.9,149.39 L374.9,150.46 L376.9,151.55 L378.9,152.65 L380.9,153.76 L382.9,154.88 L384.9,156.01 L386.9,157.16 L388.9,158.31 L390.9,159.48 L392.9,160.66 L394.9,161.86 L396.9,163.06 L398.9,164.28 L400.9,165.52 L402.9,166.76 L404.9,168.02 L406.9,169.30 L408.9,170.58 L410.9,171.88 L412.9,173.20 L414.9,174.52 L416.9,175.87 L418.9,177.22 L420.9,178.59 L422.9,179.98 L424.9,181.38 L426.9,182.79 L428.9,184.22 L430.9,185.66 L432.9,187.12 L434.9,188.58 L436.9,190.06 L438.9,191.55 L440.9,193.05 L442.9,194.56 L444.9,196.08 L446.9,197.61 L448.9,199.15 L450.9,200.70 L452.9,202.25 L454.9,203.81 L456.9,205.38 L458.9,206.96 L460.9,208.54 L462.9,210.12 L464.9,211.71 L466.9,213.31 L468.9,214.91 L470.9,216.51 L472.9,218.11 L474.9,219.72 L476.9,221.33 L478.9,222.94 L480.9,224.55 L482.9,226.17 L484.9,227.78 L486.9,229.39 L488.9,231.00 L490.9,232.61 L492.9,234.22 L494.9,235.82 L496.9,237.42 L498.9,239.02 L500.9,240.62 L502.9,242.23 L504.9,243.83 L506.9,245.43 L508.9,247.04 L510.9,248.64 L512.9,250.26 L514.9,251.87 L516.9,253.49 L518.9,255.12 L520.9,256.75 L522.9,258.39 L524.9,260.04 L526.9,261.70 L528.9,263.36 L530.9,265.03 L532.9,266.72 L534.9,268.41 L536.9,270.12 L538.9,271.84 L540.9,273.57 L542.9,275.32 L544.9,277.08 L546.9,278.86 L548.9,280.65 L550.9,282.46 L552.9,284.28 L554.9,286.13 L556.9,287.99 L558.9,289.87 L560.9,291.77 L562.9,293.69 L564.9,295.62 L566.9,297.57 L568.9,299.54 L570.9,301.52 L572.9,303.51 L574.9,305.51 L576.9,307.52 L578.9,309.54 L580.9,311.57 L582.9,313.60 L584.9,315.64 L586.9,317.68 L588.9,319.72 L590.9,321.77 L592.9,323.81 L594.9,325.85 L596.9,327.89 L598.9,329.93 L600.9,331.96 L602.9,333.98 L604.9,336.00 L606.9,338.01 L608.9,340.00 L610.9,341.99 L612.9,343.96 L614.9,345.92 L616.9,347.86 L618.9,349.79 L620.9,351.70 L622.9,353.59 L624.9,355.46 L626.9,357.31 L628.9,359.13 L630.9,360.94 L632.9,362.71 L634.9,364.46 L636.9,366.19 L638.9,367.88 L640.9,369.55 L642.9,371.18 L644.9,372.78 L646.9,374.34 L648.9,375.88 L650.9,377.37 L652.9,378.83 L654.9,380.25 L656.9,381.63 L658.9,382.97 L660.9,384.27 L662.9,385.53 L664.9,386.76 L666.9,387.94 L668.9,389.08 L670.9,390.18 L672.9,391.24 L674.9,392.26 L676.9,393.24 L678.9,394.18 L680.9,395.08 L682.9,395.93 L684.9,396.75 L686.9,397.53 L688.9,398.28 L690.9,398.98 L692.9,399.66 L694.9,400.29 L696.9,400.90 L698.9,401.47 L700.9,402.01 L702.9,402.53 L704.9,403.01 L706.9,403.46 L708.9,403.89 L710.9,404.29 L712.9,404.66 L714.9,405.01 L716.9,405.34 L718.9,405.64 L720.9,405.92 L722.9,406.18 L724.9,406.42 L726.9,406.64 L728.9,406.85 L730.9,407.03 L732.9,407.20 L734.9,407.36 L736.9,407.50 L738.9,407.63 L740.9,407.74 L742.9,407.84 L744.9,407.94 L746.9,408.02 L748.9,408.09 L750.9,408.16 L752.9,408.22 L754.9,408.28 L756.9,408.32 L758.9,408.37 L760.9,408.41 L762.9,408.45 L764.9,408.49 L766.9,408.53 L768.9,408.57 L770.9,408.61 L772.9,408.66 L774.9,408.71 L776.9,408.76 L778.9,408.82 L780.9,408.88 L782.9,408.95 L784.9,409.03 L786.9,409.12 L788.9,409.22 L790.9,409.33 L792.9,409.45 L794.9,409.59 L796.9,409.74 L798.9,409.90 L800.9,410.08 L802.9,410.28 L804.9,410.50 L806.9,410.73" stroke="#2a2ab0" stroke-width="1.00" fill="none"/>
<path d="M35.0,41.57 L37.0,42.07 L39.0,42.57 L41.0,43.07 L43.0,43.57 L45.0,44.07 L47.0,44.57 L49.0,45.07 L51.0,45.56 L53.0,46.06 L55.0,46.56 L57.0,47.05 L59.0,47.54 L61.0,48.04 L63.0,48.53 L65.0,49.02 L67.0,49.52 L69.0,50.01 L71.0,50.50 L73.0,50.99 L75.0,51.48 L77.0,51.97 L79.0,52.46 L81.0,52.95 L83.0,53.44 L85.0,53.94 L87.0,54.43 L89.0,54.92 L91.0,55.41 L93.0,55.90 L95.0,56.39 L97.0,56.88 L99.0,57.37 L101.0,57.87 L103.0,58.36 L105.0,58.85 L107.0,59.34 L109.0,59.84 L111.0,60.33 L113.0,60.83 L115.0,61.32 L117.0,61.82 L119.0,62.32 L121.0,62.81 L123.0,63.31 L125.0,63.81 L127.0,64.31 L129.0,64.81 L131.0,65.31 L133.0,65.82 L135.0,66.32 L137.0,66.83 L139.0,67.33 L141.0,67.84 L143.0,68.35 L145.0,68.86 L147.0,69.37 L149.0,69.88 L151.0,70.40 L153.0,70.91 L155.0,71.43 L157.0,71.95 L159.0,72.47 L161.0,72.99 L163.0,73.52 L165.0,74.04 L167.0,74.57 L169.0,75.10 L171.0,75.63 L173.0,76.16 L175.0,76.70 L177.0,77.23 L179.0,77.77 L181.0,78.31 L183.0,78.85 L185.0,79.40 L187.0,79.95 L189.0,80.50 L191.0,81.05 L193.0,81.60 L195.0,82.16 L197.0,82.72 L199.0,83.28 L201.0,83.84 L203.0,84.41 L205.0,84.98 L207.0,85.55 L209.0,86.12 L211.0,86.70 L213.0,87.28 L215.0,87.86 L217.0,88.44 L219.0,89.03 L221.0,89.62 L223.0,90.22 L225.0,90.81 L227.0,91.41 L229.0,92.02 L231.0,92.62 L233.0,93.23 L235.0,93.84 L237.0,94.46 L239.0,95.08 L241.0,95.70 L243.0,96.33 L245.0,96.96 L247.0,97.59 L249.0,98.22 L251.0,98.86 L253.0,99.51 L255.0,100.15 L257.0,100.81 L259.0,101.46 L261.0,102.12 L263.0,102.78 L265.0,103.45 L267.0,104.12 L269.0,104.79 L271.0,105.47 L273.0,106.15 L275.0,106.84 L277.0,107.53 L279.0,108.22 L281.0,108.92 L283.0,109.62 L285.0,110.33 L287.0,111.04 L289.0,111.76 L291.0,112.48 L293.0,113.21 L295.0,113.94 L297.0,114.68 L299.0,115.43 L301.0,116.18 L303.0,116.93 L305.0,117.69 L307.0,118.46 L309.0,119.24 L311.0,120.02 L313.0,120.81 L315.0,121.60 L317.0,122.40 L319.0,123.21 L321.0,124.03 L323.0,124.85 L325.0,125.68 L327.0,126.52 L329.0,127.36 L331.0,128.22 L333.0,129.08 L335.0,129.95 L337.0,130.83 L339.0,131.71 L341.0,132.61 L343.0,133.51 L345.0,134.43 L347.0,135.35 L349.0,136.28 L351.0,137.22 L353.0,138.17 L355.0,139.13 L357.0,140.10 L359.0,141.08 L361.0,142.07 L363.0,143.07 L365.0,144.08 L367.0,145.10 L369.0,146.13 L371.0,147.17 L373.0,148.23 L375.0,149.29 L377.0,150.36 L379.0,151.45 L381.0,152.55 L383.0,153.66 L385.0,154.78 L387.0,155.91 L389.0,157.06 L391.0,158.21 L393.0,159.38 L395.0,160.56 L397.0,161.76 L399.0,162.96 L401.0,164.18 L403.0,165.42 L405.0,166.66 L407.0,167.92 L409.0,169.20 L411.0,170.48 L413.0,171.78 L415.0,173.10 L417.0,174.42 L419.0,175.77 L421.0,177.12 L423.0,178.49 L425.0,179.88 L427.0,181.28 L429.0,182.69 L431.0,184.12 L433.0,185.56 L435.0,187.02 L437.0,188.48 L439.0,189.96 L441.0,191.45 L443.0,192.95 L445.0,194.46 L447.0,195.98 L449.0,197.51 L451.0,199.05 L453.0,200.60 L455.0,202.15 L457.0,203.71 L459.0,205.28 L461.0,206.86 L463.0,208.44 L465.0,210.02 L467.0,211.61 L469.0,213.21 L471.0,214.81 L473.0,216.41 L475.0,218.01 L477.0,219.62 L479.0,221.23 L481.0,222.84 L483.0,224.45 L485.0,226.07 L487.0,227.68 L489.0,229.29 L491.0,230.90 L493.0,232.51 L495.0,234.12 L497.0,235.72 L499.0,237.32 L501.0,238.92 L503.0,240.52 L505.0,242.13 L507.0,243.73 L509.0,245.33 L511.0,246.94 L513.0,248.54 L515.0,250.16 L517.0,251.77 L519.0,253.39 L521.0,255.02 L523.0,256.65 L525.0,258.29 L527.0,259.94 L529.0,261.60 L531.0,263.26 L533.0,264.93 L535.0,266.62 L537.0,268.31 L539.0,270.02 L541.0,271.74 L543.0,273.47 L545.0,275.22 L547.0,276.98 L549.0,278.76 L551.0,280.55 L553.0,282.36 L555.0,284.18 L557.0,286.03 L559.0,287.89 L561.0,289.77 L563.0,291.67 L565.0,293.59 L567.0,295.52 L569.0,297.47 L571.0,299.44 L573.0,301.42 L575.0,303.41 L577.0,305.41 L579.0,307.42 L581.0,309.44 L583.0,311.47 L585.0,313.50 L587.0,315.54 L589.0,317.58 L591.0,319.62 L593.0,321.67 L595.0,323.71 L597.0,325.75 L599.0,327.79 L601.0,329.83 L603.0,331.86 L605.0,333.88 L607.0,335.90 L609.0,337.91 L611.0,339.90 L613.0,341.89 L615.0,343.86 L617.0,345.82 L619.0,347.76 L621.0,349.69 L623.0,351.60 L625.0,353.49 L627.0,355.36 L629.0,357.21 L631.0,359.03 L633.0,360.84 L635.0,362.61 L637.0,364.36 L639.0,366.09 L641.0,367.78 L643.0,369.45 L645.0,371.08 L647.0,372.68 L649.0,374.24 L651.0,375.78 L653.0,377.27 L655.0,378.73 L657.0,380.15 L659.0,381.53 L661.0,382.87 L663.0,384.17 L665.0,385.43 L667.0,386.66 L669.0,387.84 L671.0,388.98 L673.0,390.08 L675.0,391.14 L677.0,392.16 L679.0,393.14 L681.0,394.08 L683.0,394.98 L685.0,395.83 L687.0,396.65 L689.0,397.43 L691.0,398.18 L693.0,398.88 L695.0,399.56 L697.0,400.19 L699.0,400.80 L701.0,401.37 L703.0,401.91 L705.0,402.43 L707.0,402.91 L709.0,403.36 L711.0,403.79 L713.0,404.19 L715.0,404.56 L717.0,404.91 L719.0,405.24 L721.0,405.54 L723.0,405.82 L725.0,406.08 L727.0,406.32 L729.0,406.54 L731.0,406.75 L733.0,406.93 L735.0,407.10 L737.0,407.26 L739.0,407.40 L741.0,407.53 L743.0,407.64 L745.0,407.74 L747.0,407.84 L749.0,407.92 L751.0,407.99 L753.0,408.06 L755.0,408.12 L757.0,408.18 L759.0,408.22 L761.0,408.27 L763.0,408.31 L765.0,408.35 L767.0,408.39 L769.0,408.43 L771.0,408.47 L773.0,408.51 L775.0,408.56 L777.0,408.61 L779.0,408.66 L781.0,408.72 L783.0,408.78 L785.0,408.85 L787.0,408.93 L789.0,409.02 L791.0,409.12 L793.0,409.23 L795.0,409.35 L797.0,409.49 L799.0,409.64 L801.0,409.80 L803.0,409.98 L805.0,410.18 L807.0,410.40 L809.0,410.63" stroke="#2a2ab0" stroke-width="1.00" fill="none"/>
<path d="M37.1,41.47 L39.1,41.97 L41.1,42.47 L43.1,42.97 L45.1,43.47 L47.1,43.97 L49.1,44.47 L51.1,44.97 L53.1,45.46 L55.1,45.96 L57.1,46.46 L59.1,46.95 L61.1,47.44 L63.1,47.94 L65.1,48.43 L67.1,48.92 L69.1,49.42 L71.1,49.91 L73.1,50.40 L75.1,50.89 L77.1,51.38 L79.1,51.87 L81.1,52.36 L83.1,52.85 L85.1,53.34 L87.1,53.84 L89.1,54.33 L91.1,54.82 L93.1,55.31 L95.1,55.80 L97.1,56.29 L99.1,56.78 L101.1,57.27 L103.1,57.77 L105.1,58.26 L107.1,58.75 L109.1,59.24 L111.1,59.74 L113.1,60.23 L115.1,60.73 L117.1,61.22 L119.1,61.72 L121.1,62.22 L123.1,62.71 L125.1,63.21 L127.1,63.71 L129.1,64.21 L131.1,64.71 L133.1,65.21 L135.1,65.72 L137.1,66.22 L139.1,66.73 L141.1,67.23 L143.1,67.74 L145.1,68.25 L147.1,68.76 L149.1,69.27 L151.1,69.78 L153.1,70.30 L155.1,70.81 L157.1,71.33 L159.1,71.85 L161.1,72.37 L163.1,72.89 L165.1,73.42 L167.1,73.94 L169.1,74.47 L171.1,75.00 L173.1,75.53 L175.1,76.06 L177.1,76.60 L179.1,77.13 L181.1,77.67 L183.1,78.21 L185.1,78.75 L187.1,79.30 L189.1,79.85 L191.1,80.40 L193.1,80.95 L195.1,81.50 L197.1,82.06 L199.1,82.62 L201.1,83.18 L203.1,83.74 L205.1,84.31 L207.1,84.88 L209.1,85.45 L211.1,86.02 L213.1,86.60 L215.1,87.18 L217.1,87.76 L219.1,88.34 L221.1,88.93 L223.1,89.52 L225.1,90.12 L227.1,90.71 L229.1,91.31 L231.1,91.92 L233.1,92.52 L235.1,93.13 L237.1,93.74 L239.1,94.36 L241.1,94.98 L243.1,95.60 L245.1,96.23 L247.1,96.86 L249.1,97.49 L251.1,98.12 L253.1,98.76 L255.1,99.41 L257.1,100.05 L259.1,100.71 L261.1,101.36 L263.1,102.02 L265.1,102.68 L267.1,103.35 L269.1,104.02 L271.1,104.69 L273.1,105.37 L275.1,106.05 L277.1,106.74 L279.1,107.43 L281.1,108.12 L283.1,108.82 L285.1,109.52 L287.1,110.23 L289.1,110.94 L291.1,111.66 L293.1,112.38 L295.1,113.11 L297.1,113.84 L299.1,114.58 L301.1,115.33 L303.1,116.08 L305.1,116.83 L307.1,117.59 L309.1,118.36 L311.1,119.14 L313.1,119.92 L315.1,120.71 L317.1,121.50 L319.1,122.30 L321.1,123.11 L323.1,123.93 L325.1,124.75 L327.1,125.58 L329.1,126.42 L331.1,127.26 L333.1,128.12 L335.1,128.98 L337.1,129.85 L339.1,130.73 L341.1,131.61 L343.1,132.51 L345.1,133.41 L347.1,134.33 L349.1,135.25 L351.1,136.18 L353.1,137.12 L355.1,138.07 L357.1,139.03 L359.1,140.00 L361.1,140.98 L363.1,141.97 L365.1,142.97 L367.1,143.98 L369.1,145.00 L371.1,146.03 L373.1,147.07 L375.1,148.13 L377.1,149.19 L379.1,150.26 L381.1,151.35 L383.1,152.45 L385.1,153.56 L387.1,154.68 L389.1,155.81 L391.1,156.96 L393.1,158.11 L395.1,159.28 L397.1,160.46 L399.1,161.66 L401.1,162.86 L403.1,164.08 L405.1,165.32 L407.1,166.56 L409.1,167.82 L411.1,169.10 L413.1,170.38 L415.1,171.68 L417.1,173.00 L419.1,174.32 L421.1,175.67 L423.1,177.02 L425.1,178.39 L427.1,179.78 L429.1,181.18 L431.1,182.59 L433.1,184.02 L435.1,185.46 L437.1,186.92 L439.1,188.38 L441.1,189.86 L443.1,191.35 L445.1,192.85 L447.1,194.36 L449.1,195.88 L451.1,197.41 L453.1,198.95 L455.1,200.50 L457.1,202.05 L459.1,203.61 L461.1,205.18 L463.1,206.76 L465.1,208.34 L467.1,209.92 L469.1,211.51 L471.1,213.11 L473.1,214.71 L475.1,216.31 L477.1,217.91 L479.1,219.52 L481.1,221.13 L483.1,222.74 L485.1,224.35 L487.1,225.97 L489.1,227.58 L491.1,229.19 L493.1,230.80 L495.1,232.41 L497.1,234.02 L499.1,235.62 L501.1,237.22 L503.1,238.82 L505.1,240.42 L507.1,242.03 L509.1,243.63 L511.1,245.23 L513.1,246.84 L515.1,248.44 L517.1,250.06 L519.1,251.67 L521.1,253.29 L523.1,254.92 L525.1,256.55 L527.1,258.19 L529.1,259.84 L531.1,261.50 L533.1,263.16 L535.1,264.83 L537.1,266.52 L539.1,268.21 L541.1,269.92 L543.1,271.64 L545.1,273.37 L547.1,275.12 L549.1,276.88 L551.1,278.66 L553.1,280.45 L555.1,282.26 L557.1,284.08 L559.1,285.93 L561.1,287.79 L563.1,289.67 L565.1,291.57 L567.1,293.49 L569.1,295.42 L571.1,297.37 L573.1,299.34 L575.1,301.32 L577.1,303.31 L579.1,305.31 L581.1,307.32 L583.1,309.34 L585.1,311.37 L587.1,313.40 L589.1,315.44 L591.1,317.48 L593.1,319.52 L595.1,321.57 L597.1,323.61 L599.1,325.65 L601.1,327.69 L603.1,329.73 L605.1,331.76 L607.1,333.78 L609.1,335.80 L611.1,337.81 L613.1,339.80 L615.1,341.79 L617.1,343.76 L619.1,345.72 L621.1,347.66 L623.1,349.59 L625.1,351.50 L627.1,353.39 L629.1,355.26 L631.1,357.11 L633.1,358.93 L635.1,360.74 L637.1,362.51 L639.1,364.26 L641.1,365.99 L643.1,367.68 L645.1,369.35 L647.1,370.98 L649.1,372.58 L651.1,374.14 L653.1,375.68 L655.1,377.17 L657.1,378.63 L659.1,380.05 L661.1,381.43 L663.1,382.77 L665.1,384.07 L667.1,385.33 L669.1,386.56 L671.1,387.74 L673.1,388.88 L675.1,389.98 L677.1,391.04 L679.1,392.06 L681.1,393.04 L683.1,393.98 L685.1,394.88 L687.1,395.73 L689.1,396.55 L691.1,397.33 L693.1,398.08 L695.1,398.78 L697.1,399.46 L699.1,400.09 L701.1,400.70 L703.1,401.27 L705.1,401.81 L707.1,402.33 L709.1,402.81 L711.1,403.26 L713.1,403.69 L715.1,404.09 L717.1,404.46 L719.1,404.81 L721.1,405.14 L723.1,405.44 L725.1,405.72 L727.1,405.98 L729.1,406.22 L731.1,406.44 L733.1,406.65 L735.1,406.83 L737.1,407.00 L739.1,407.16 L741.1,407.30 L743.1,407.43 L745.1,407.54 L747.1,407.64 L749.1,407.74 L751.1,407.82 L753.1,407.89 L755.1,407.96 L757.1,408.02 L759.1,408.08 L761.1,408.12 L763.1,408.17 L765.1,408.21 L767.1,408.25 L769.1,408.29 L771.1,408.33 L773.1,408.37 L775.1,408.41 L777.1,408.46 L779.1,408.51 L781.1,408.56 L783.1,408.62 L785.1,408.68 L787.1,408.75 L789.1,408.83 L791.1,408.92 L793.1,409.02 L795.1,409.13 L797.1,409.25 L799.1,409.39 L801.1,409.54 L803.1,409.70 L805.1,409.88 L807.1,410.08 L809.1,410.30 L811.1,410.53" stroke="#2a2ab0" stroke-width="1.00" fill="none"/>
<path d="M31.8,41.72 L33.8,42.22 L35.8,42.72 L37.8,43.22 L39.8,43.72 L41.8,44.22 L43.8,44.72 L45.8,45.22 L47.8,45.71 L49.8,46.21 L51.8,46.71 L53.8,47.20 L55.8,47.69 L57.8,48.19 L59.8,48.68 L61.8,49.17 L63.8,49.67 L65.8,50.16 L67.8,50.65 L69.8,51.14 L71.8,51.63 L73.8,52.12 L75.8,52.61 L77.8,53.10 L79.8,53.59 L81.8,54.09 L83.8,54.58 L85.8,55.07 L87.8,55.56 L89.8,56.05 L91.8,56.54 L93.8,57.03 L95.8,57.52 L97.8,58.02 L99.8,58.51 L101.8,59.00 L103.8,59.49 L105.8,59.99 L107.8,60.48 L109.8,60.98 L111.8,61.47 L113.8,61.97 L115.8,62.47 L117.8,62.96 L119.8,63.46 L121.8,63.96 L123.8,64.46 L125.8,64.96 L127.8,65.46 L129.8,65.97 L131.8,66.47 L133.8,66.98 L135.8,67.48 L137.8,67.99 L139.8,68.50 L141.8,69.01 L143.8,69.52 L145.8,70.03 L147.8,70.55 L149.8,71.06 L151.8,71.58 L153.8,72.10 L155.8,72.62 L157.8,73.14 L159.8,73.67 L161.8,74.19 L163.8,74.72 L165.8,75.25 L167.8,75.78 L169.8,76.31 L171.8,76.85 L173.8,77.38 L175.8,77.92 L177.8,78.46 L179.8,79.00 L181.8,79.55 L183.8,80.10 L185.8,80.65 L187.8,81.20 L189.8,81.75 L191.8,82.31 L193.8,82.87 L195.8,83.43 L197.8,83.99 L199.8,84.56 L201.8,85.13 L203.8,85.70 L205.8,86.27 L207.8,86.85 L209.8,87.43 L211.8,88.01 L213.8,88.59 L215.8,89.18 L217.8,89.77 L219.8,90.37 L221.8,90.96 L223.8,91.56 L225.8,92.17 L227.8,92.77 L229.8,93.38 L231.8,93.99 L233.8,94.61 L235.8,95.23 L237.8,95.85 L239.8,96.48 L241.8,97.11 L243.8,97.74 L245.8,98.37 L247.8,99.01 L249.8,99.66 L251.8,100.30 L253.8,100.96 L255.8,101.61 L257.8,102.27 L259.8,102.93 L261.8,103.60 L263.8,104.27 L265.8,104.94 L267.8,105.62 L269.8,106.30 L271.8,106.99 L273.8,107.68 L275.8,108.37 L277.8,109.07 L279.8,109.77 L281.8,110.48 L283.8,111.19 L285.8,111.91 L287.8,112.63 L289.8,113.36 L291.8,114.09 L293.8,114.83 L295.8,115.58 L297.8,116.33 L299.8,117.08 L301.8,117.84 L303.8,118.61 L305.8,119.39 L307.8,120.17 L309.8,120.96 L311.8,121.75 L313.8,122.55 L315.8,123.36 L317.8,124.18 L319.8,125.00 L321.8,125.83 L323.8,126.67 L325.8,127.51 L327.8,128.37 L329.8,129.23 L331.8,130.10 L333.8,130.98 L335.8,131.86 L337.8,132.76 L339.8,133.66 L341.8,134.58 L343.8,135.50 L345.8,136.43 L347.8,137.37 L349.8,138.32 L351.8,139.28 L353.8,140.25 L355.8,141.23 L357.8,142.22 L359.8,143.22 L361.8,144.23 L363.8,145.25 L365.8,146.28 L367.8,147.32 L369.8,148.38 L371.8,149.44 L373.8,150.51 L375.8,151.60 L377.8,152.70 L379.8,153.81 L381.8,154.93 L383.8,156.06 L385.8,157.21 L387.8,158.36 L389.8,159.53 L391.8,160.71 L393.8,161.91 L395.8,163.11 L397.8,164.33 L399.8,165.57 L401.8,166.81 L403.8,168.07 L405.8,169.35 L407.8,170.63 L409.8,171.93 L411.8,173.25 L413.8,174.57 L415.8,175.92 L417.8,177.27 L419.8,178.64 L421.8,180.03 L423.8,181.43 L425.8,182.84 L427.8,184.27 L429.8,185.71 L431.8,187.17 L433.8,188.63 L435.8,190.11 L437.8,191.60 L439.8,193.10 L441.8,194.61 L443.8,196.13 L445.8,197.66 L447.8,199.20 L449.8,200.75 L451.8,202.30 L453.8,203.86 L455.8,205.43 L457.8,207.01 L459.8,208.59 L461.8,210.17 L463.8,211.76 L465.8,213.36 L467.8,214.96 L469.8,216.56 L471.8,218.16 L473.8,219.77 L475.8,221.38 L477.8,222.99 L479.8,224.60 L481.8,226.22 L483.8,227.83 L485.8,229.44 L487.8,231.05 L489.8,232.66 L491.8,234.27 L493.8,235.87 L495.8,237.47 L497.8,239.07 L499.8,240.67 L501.8,242.28 L503.8,243.88 L505.8,245.48 L507.8,247.09 L509.8,248.69 L511.8,250.31 L513.8,251.92 L515.8,253.54 L517.8,255.17 L519.8,256.80 L521.8,258.44 L523.8,260.09 L525.8,261.75 L527.8,263.41 L529.8,265.08 L531.8,266.77 L533.8,268.46 L535.8,270.17 L537.8,271.89 L539.8,273.62 L541.8,275.37 L543.8,277.13 L545.8,278.91 L547.8,280.70 L549.8,282.51 L551.8,284.33 L553.8,286.18 L555.8,288.04 L557.8,289.92 L559.8,291.82 L561.8,293.74 L563.8,295.67 L565.8,297.62 L567.8,299.59 L569.8,301.57 L571.8,303.56 L573.8,305.56 L575.8,307.57 L577.8,309.59 L579.8,311.62 L581.8,313.65 L583.8,315.69 L585.8,317.73 L587.8,319.77 L589.8,321.82 L591.8,323.86 L593.8,325.90 L595.8,327.94 L597.8,329.98 L599.8,332.01 L601.8,334.03 L603.8,336.05 L605.8,338.06 L607.8,340.05 L609.8,342.04 L611.8,344.01 L613.8,345.97 L615.8,347.91 L617.8,349.84 L619.8,351.75 L621.8,353.64 L623.8,355.51 L625.8,357.36 L627.8,359.18 L629.8,360.99 L631.8,362.76 L633.8,364.51 L635.8,366.24 L637.8,367.93 L639.8,369.60 L641.8,371.23 L643.8,372.83 L645.8,374.39 L647.8,375.93 L649.8,377.42 L651.8,378.88 L653.8,380.30 L655.8,381.68 L657.8,383.02 L659.8,384.32 L661.8,385.58 L663.8,386.81 L665.8,387.99 L667.8,389.13 L669.8,390.23 L671.8,391.29 L673.8,392.31 L675.8,393.29 L677.8,394.23 L679.8,395.13 L681.8,395.98 L683.8,396.80 L685.8,397.58 L687.8,398.33 L689.8,399.03 L691.8,399.71 L693.8,400.34 L695.8,400.95 L697.8,401.52 L699.8,402.06 L701.8,402.58 L703.8,403.06 L705.8,403.51 L707.8,403.94 L709.8,404.34 L711.8,404.71 L713.8,405.06 L715.8,405.39 L717.8,405.69 L719.8,405.97 L721.8,406.23 L723.8,406.47 L725.8,406.69 L727.8,406.90 L729.8,407.08 L731.8,407.25 L733.8,407.41 L735.8,407.55 L737.8,407.68 L739.8,407.79 L741.8,407.89 L743.8,407.99 L745.8,408.07 L747.8,408.14 L749.8,408.21 L751.8,408.27 L753.8,408.33 L755.8,408.37 L757.8,408.42 L759.8,408.46 L761.8,408.50 L763.8,408.54 L765.8,408.58 L767.8,408.62 L769.8,408.66 L771.8,408.71 L773.8,408.76 L775.8,408.81 L777.8,408.87 L779.8,408.93 L781.8,409.00 L783.8,409.08 L785.8,409.17 L787.8,409.27 L789.8,409.38 L791.8,409.50 L793.8,409.64 L795.8,409.79 L797.8,409.95 L799.8,410.13 L801.8,410.33 L803.8,410.55 L805.8,410.78" stroke="#000088" stroke-width="0.95" fill="none"/>
<path d="M33.9,41.62 L35.9,42.12 L37.9,42.62 L39.9,43.12 L41.9,43.62 L43.9,44.12 L45.9,44.62 L47.9,45.12 L49.9,45.61 L51.9,46.11 L53.9,46.61 L55.9,47.10 L57.9,47.59 L59.9,48.09 L61.9,48.58 L63.9,49.07 L65.9,49.57 L67.9,50.06 L69.9,50.55 L71.9,51.04 L73.9,51.53 L75.9,52.02 L77.9,52.51 L79.9,53.00 L81.9,53.49 L83.9,53.99 L85.9,54.48 L87.9,54.97 L89.9,55.46 L91.9,55.95 L93.9,56.44 L95.9,56.93 L97.9,57.42 L99.9,57.92 L101.9,58.41 L103.9,58.90 L105.9,59.39 L107.9,59.89 L109.9,60.38 L111.9,60.88 L113.9,61.37 L115.9,61.87 L117.9,62.37 L119.9,62.86 L121.9,63.36 L123.9,63.86 L125.9,64.36 L127.9,64.86 L129.9,65.36 L131.9,65.87 L133.9,66.37 L135.9,66.88 L137.9,67.38 L139.9,67.89 L141.9,68.40 L143.9,68.91 L145.9,69.42 L147.9,69.93 L149.9,70.45 L151.9,70.96 L153.9,71.48 L155.9,72.00 L157.9,72.52 L159.9,73.04 L161.9,73.57 L163.9,74.09 L165.9,74.62 L167.9,75.15 L169.9,75.68 L171.9,76.21 L173.9,76.75 L175.9,77.28 L177.9,77.82 L179.9,78.36 L181.9,78.90 L183.9,79.45 L185.9,80.00 L187.9,80.55 L189.9,81.10 L191.9,81.65 L193.9,82.21 L195.9,82.77 L197.9,83.33 L199.9,83.89 L201.9,84.46 L203.9,85.03 L205.9,85.60 L207.9,86.17 L209.9,86.75 L211.9,87.33 L213.9,87.91 L215.9,88.49 L217.9,89.08 L219.9,89.67 L221.9,90.27 L223.9,90.86 L225.9,91.46 L227.9,92.07 L229.9,92.67 L231.9,93.28 L233.9,93.89 L235.9,94.51 L237.9,95.13 L239.9,95.75 L241.9,96.38 L243.9,97.01 L245.9,97.64 L247.9,98.27 L249.9,98.91 L251.9,99.56 L253.9,100.20 L255.9,100.86 L257.9,101.51 L259.9,102.17 L261.9,102.83 L263.9,103.50 L265.9,104.17 L267.9,104.84 L269.9,105.52 L271.9,106.20 L273.9,106.89 L275.9,107.58 L277.9,108.27 L279.9,108.97 L281.9,109.67 L283.9,110.38 L285.9,111.09 L287.9,111.81 L289.9,112.53 L291.9,113.26 L293.9,113.99 L295.9,114.73 L297.9,115.48 L299.9,116.23 L301.9,116.98 L303.9,117.74 L305.9,118.51 L307.9,119.29 L309.9,120.07 L311.9,120.86 L313.9,121.65 L315.9,122.45 L317.9,123.26 L319.9,124.08 L321.9,124.90 L323.9,125.73 L325.9,126.57 L327.9,127.41 L329.9,128.27 L331.9,129.13 L333.9,130.00 L335.9,130.88 L337.9,131.76 L339.9,132.66 L341.9,133.56 L343.9,134.48 L345.9,135.40 L347.9,136.33 L349.9,137.27 L351.9,138.22 L353.9,139.18 L355.9,140.15 L357.9,141.13 L359.9,142.12 L361.9,143.12 L363.9,144.13 L365.9,145.15 L367.9,146.18 L369.9,147.22 L371.9,148.28 L373.9,149.34 L375.9,150.41 L377.9,151.50 L379.9,152.60 L381.9,153.71 L383.9,154.83 L385.9,155.96 L387.9,157.11 L389.9,158.26 L391.9,159.43 L393.9,160.61 L395.9,161.81 L397.9,163.01 L399.9,164.23 L401.9,165.47 L403.9,166.71 L405.9,167.97 L407.9,169.25 L409.9,170.53 L411.9,171.83 L413.9,173.15 L415.9,174.47 L417.9,175.82 L419.9,177.17 L421.9,178.54 L423.9,179.93 L425.9,181.33 L427.9,182.74 L429.9,184.17 L431.9,185.61 L433.9,187.07 L435.9,188.53 L437.9,190.01 L439.9,191.50 L441.9,193.00 L443.9,194.51 L445.9,196.03 L447.9,197.56 L449.9,199.10 L451.9,200.65 L453.9,202.20 L455.9,203.76 L457.9,205.33 L459.9,206.91 L461.9,208.49 L463.9,210.07 L465.9,211.66 L467.9,213.26 L469.9,214.86 L471.9,216.46 L473.9,218.06 L475.9,219.67 L477.9,221.28 L479.9,222.89 L481.9,224.50 L483.9,226.12 L485.9,227.73 L487.9,229.34 L489.9,230.95 L491.9,232.56 L493.9,234.17 L495.9,235.77 L497.9,237.37 L499.9,238.97 L501.9,240.57 L503.9,242.18 L505.9,243.78 L507.9,245.38 L509.9,246.99 L511.9,248.59 L513.9,250.21 L515.9,251.82 L517.9,253.44 L519.9,255.07 L521.9,256.70 L523.9,258.34 L525.9,259.99 L527.9,261.65 L529.9,263.31 L531.9,264.98 L533.9,266.67 L535.9,268.36 L537.9,270.07 L539.9,271.79 L541.9,273.52 L543.9,275.27 L545.9,277.03 L547.9,278.81 L549.9,280.60 L551.9,282.41 L553.9,284.23 L555.9,286.08 L557.9,287.94 L559.9,289.82 L561.9,291.72 L563.9,293.64 L565.9,295.57 L567.9,297.52 L569.9,299.49 L571.9,301.47 L573.9,303.46 L575.9,305.46 L577.9,307.47 L579.9,309.49 L581.9,311.52 L583.9,313.55 L585.9,315.59 L587.9,317.63 L589.9,319.67 L591.9,321.72 L593.9,323.76 L595.9,325.80 L597.9,327.84 L599.9,329.88 L601.9,331.91 L603.9,333.93 L605.9,335.95 L607.9,337.96 L609.9,339.95 L611.9,341.94 L613.9,343.91 L615.9,345.87 L617.9,347.81 L619.9,349.74 L621.9,351.65 L623.9,353.54 L625.9,355.41 L627.9,357.26 L629.9,359.08 L631.9,360.89 L633.9,362.66 L635.9,364.41 L637.9,366.14 L639.9,367.83 L641.9,369.50 L643.9,371.13 L645.9,372.73 L647.9,374.29 L649.9,375.83 L651.9,377.32 L653.9,378.78 L655.9,380.20 L657.9,381.58 L659.9,382.92 L661.9,384.22 L663.9,385.48 L665.9,386.71 L667.9,387.89 L669.9,389.03 L671.9,390.13 L673.9,391.19 L675.9,392.21 L677.9,393.19 L679.9,394.13 L681.9,395.03 L683.9,395.88 L685.9,396.70 L687.9,397.48 L689.9,398.23 L691.9,398.93 L693.9,399.61 L695.9,400.24 L697.9,400.85 L699.9,401.42 L701.9,401.96 L703.9,402.48 L705.9,402.96 L707.9,403.41 L709.9,403.84 L711.9,404.24 L713.9,404.61 L715.9,404.96 L717.9,405.29 L719.9,405.59 L721.9,405.87 L723.9,406.13 L725.9,406.37 L727.9,406.59 L729.9,406.80 L731.9,406.98 L733.9,407.15 L735.9,407.31 L737.9,407.45 L739.9,407.58 L741.9,407.69 L743.9,407.79 L745.9,407.89 L747.9,407.97 L749.9,408.04 L751.9,408.11 L753.9,408.17 L755.9,408.23 L757.9,408.27 L759.9,408.32 L761.9,408.36 L763.9,408.40 L765.9,408.44 L767.9,408.48 L769.9,408.52 L771.9,408.56 L773.9,408.61 L775.9,408.66 L777.9,408.71 L779.9,408.77 L781.9,408.83 L783.9,408.90 L785.9,408.98 L787.9,409.07 L789.9,409.17 L791.9,409.28 L793.9,409.40 L795.9,409.54 L797.9,409.69 L799.9,409.85 L801.9,410.03 L803.9,410.23 L805.9,410.45 L807.9,410.68" stroke="#000088" stroke-width="0.95" fill="none"/>
<path d="M36.1,41.52 L38.1,42.02 L40.1,42.52 L42.1,43.02 L44.1,43.52 L46.1,44.02 L48.1,44.52 L50.1,45.02 L52.1,45.51 L54.1,46.01 L56.1,46.51 L58.1,47.00 L60.1,47.49 L62.1,47.99 L64.1,48.48 L66.1,48.97 L68.1,49.47 L70.1,49.96 L72.1,50.45 L74.1,50.94 L76.1,51.43 L78.1,51.92 L80.1,52.41 L82.1,52.90 L84.1,53.39 L86.1,53.89 L88.1,54.38 L90.1,54.87 L92.1,55.36 L94.1,55.85 L96.1,56.34 L98.1,56.83 L100.1,57.32 L102.1,57.82 L104.1,58.31 L106.1,58.80 L108.1,59.29 L110.1,59.79 L112.1,60.28 L114.1,60.78 L116.1,61.27 L118.1,61.77 L120.1,62.27 L122.1,62.76 L124.1,63.26 L126.1,63.76 L128.1,64.26 L130.1,64.76 L132.1,65.26 L134.1,65.77 L136.1,66.27 L138.1,66.78 L140.1,67.28 L142.1,67.79 L144.1,68.30 L146.1,68.81 L148.1,69.32 L150.1,69.83 L152.1,70.35 L154.1,70.86 L156.1,71.38 L158.1,71.90 L160.1,72.42 L162.1,72.94 L164.1,73.47 L166.1,73.99 L168.1,74.52 L170.1,75.05 L172.1,75.58 L174.1,76.11 L176.1,76.65 L178.1,77.18 L180.1,77.72 L182.1,78.26 L184.1,78.80 L186.1,79.35 L188.1,79.90 L190.1,80.45 L192.1,81.00 L194.1,81.55 L196.1,82.11 L198.1,82.67 L200.1,83.23 L202.1,83.79 L204.1,84.36 L206.1,84.93 L208.1,85.50 L210.1,86.07 L212.1,86.65 L214.1,87.23 L216.1,87.81 L218.1,88.39 L220.1,88.98 L222.1,89.57 L224.1,90.17 L226.1,90.76 L228.1,91.36 L230.1,91.97 L232.1,92.57 L234.1,93.18 L236.1,93.79 L238.1,94.41 L240.1,95.03 L242.1,95.65 L244.1,96.28 L246.1,96.91 L248.1,97.54 L250.1,98.17 L252.1,98.81 L254.1,99.46 L256.1,100.10 L258.1,100.76 L260.1,101.41 L262.1,102.07 L264.1,102.73 L266.1,103.40 L268.1,104.07 L270.1,104.74 L272.1,105.42 L274.1,106.10 L276.1,106.79 L278.1,107.48 L280.1,108.17 L282.1,108.87 L284.1,109.57 L286.1,110.28 L288.1,110.99 L290.1,111.71 L292.1,112.43 L294.1,113.16 L296.1,113.89 L298.1,114.63 L300.1,115.38 L302.1,116.13 L304.1,116.88 L306.1,117.64 L308.1,118.41 L310.1,119.19 L312.1,119.97 L314.1,120.76 L316.1,121.55 L318.1,122.35 L320.1,123.16 L322.1,123.98 L324.1,124.80 L326.1,125.63 L328.1,126.47 L330.1,127.31 L332.1,128.17 L334.1,129.03 L336.1,129.90 L338.1,130.78 L340.1,131.66 L342.1,132.56 L344.1,133.46 L346.1,134.38 L348.1,135.30 L350.1,136.23 L352.1,137.17 L354.1,138.12 L356.1,139.08 L358.1,140.05 L360.1,141.03 L362.1,142.02 L364.1,143.02 L366.1,144.03 L368.1,145.05 L370.1,146.08 L372.1,147.12 L374.1,148.18 L376.1,149.24 L378.1,150.31 L380.1,151.40 L382.1,152.50 L384.1,153.61 L386.1,154.73 L388.1,155.86 L390.1,157.01 L392.1,158.16 L394.1,159.33 L396.1,160.51 L398.1,161.71 L400.1,162.91 L402.1,164.13 L404.1,165.37 L406.1,166.61 L408.1,167.87 L410.1,169.15 L412.1,170.43 L414.1,171.73 L416.1,173.05 L418.1,174.37 L420.1,175.72 L422.1,177.07 L424.1,178.44 L426.1,179.83 L428.1,181.23 L430.1,182.64 L432.1,184.07 L434.1,185.51 L436.1,186.97 L438.1,188.43 L440.1,189.91 L442.1,191.40 L444.1,192.90 L446.1,194.41 L448.1,195.93 L450.1,197.46 L452.1,199.00 L454.1,200.55 L456.1,202.10 L458.1,203.66 L460.1,205.23 L462.1,206.81 L464.1,208.39 L466.1,209.97 L468.1,211.56 L470.1,213.16 L472.1,214.76 L474.1,216.36 L476.1,217.96 L478.1,219.57 L480.1,221.18 L482.1,222.79 L484.1,224.40 L486.1,226.02 L488.1,227.63 L490.1,229.24 L492.1,230.85 L494.1,232.46 L496.1,234.07 L498.1,235.67 L500.1,237.27 L502.1,238.87 L504.1,240.47 L506.1,242.08 L508.1,243.68 L510.1,245.28 L512.1,246.89 L514.1,248.49 L516.1,250.11 L518.1,251.72 L520.1,253.34 L522.1,254.97 L524.1,256.60 L526.1,258.24 L528.1,259.89 L530.1,261.55 L532.1,263.21 L534.1,264.88 L536.1,266.57 L538.1,268.26 L540.1,269.97 L542.1,271.69 L544.1,273.42 L546.1,275.17 L548.1,276.93 L550.1,278.71 L552.1,280.50 L554.1,282.31 L556.1,284.13 L558.1,285.98 L560.1,287.84 L562.1,289.72 L564.1,291.62 L566.1,293.54 L568.1,295.47 L570.1,297.42 L572.1,299.39 L574.1,301.37 L576.1,303.36 L578.1,305.36 L580.1,307.37 L582.1,309.39 L584.1,311.42 L586.1,313.45 L588.1,315.49 L590.1,317.53 L592.1,319.57 L594.1,321.62 L596.1,323.66 L598.1,325.70 L600.1,327.74 L602.1,329.78 L604.1,331.81 L606.1,333.83 L608.1,335.85 L610.1,337.86 L612.1,339.85 L614.1,341.84 L616.1,343.81 L618.1,345.77 L620.1,347.71 L622.1,349.64 L624.1,351.55 L626.1,353.44 L628.1,355.31 L630.1,357.16 L632.1,358.98 L634.1,360.79 L636.1,362.56 L638.1,364.31 L640.1,366.04 L642.1,367.73 L644.1,369.40 L646.1,371.03 L648.1,372.63 L650.1,374.19 L652.1,375.73 L654.1,377.22 L656.1,378.68 L658.1,380.10 L660.1,381.48 L662.1,382.82 L664.1,384.12 L666.1,385.38 L668.1,386.61 L670.1,387.79 L672.1,388.93 L674.1,390.03 L676.1,391.09 L678.1,392.11 L680.1,393.09 L682.1,394.03 L684.1,394.93 L686.1,395.78 L688.1,396.60 L690.1,397.38 L692.1,398.13 L694.1,398.83 L696.1,399.51 L698.1,400.14 L700.1,400.75 L702.1,401.32 L704.1,401.86 L706.1,402.38 L708.1,402.86 L710.1,403.31 L712.1,403.74 L714.1,404.14 L716.1,404.51 L718.1,404.86 L720.1,405.19 L722.1,405.49 L724.1,405.77 L726.1,406.03 L728.1,406.27 L730.1,406.49 L732.1,406.70 L734.1,406.88 L736.1,407.05 L738.1,407.21 L740.1,407.35 L742.1,407.48 L744.1,407.59 L746.1,407.69 L748.1,407.79 L750.1,407.87 L752.1,407.94 L754.1,408.01 L756.1,408.07 L758.1,408.13 L760.1,408.17 L762.1,408.22 L764.1,408.26 L766.1,408.30 L768.1,408.34 L770.1,408.38 L772.1,408.42 L774.1,408.46 L776.1,408.51 L778.1,408.56 L780.1,408.61 L782.1,408.67 L784.1,408.73 L786.1,408.80 L788.1,408.88 L790.1,408.97 L792.1,409.07 L794.1,409.18 L796.1,409.30 L798.1,409.44 L800.1,409.59 L802.1,409.75 L804.1,409.93 L806.1,410.13 L808.1,410.35 L810.1,410.58" stroke="#000088" stroke-width="0.95" fill="none"/>
<path d="M38.2,41.42 L40.2,41.92 L42.2,42.42 L44.2,42.92 L46.2,43.42 L48.2,43.92 L50.2,44.42 L52.2,44.92 L54.2,45.41 L56.2,45.91 L58.2,46.41 L60.2,46.90 L62.2,47.39 L64.2,47.89 L66.2,48.38 L68.2,48.87 L70.2,49.37 L72.2,49.86 L74.2,50.35 L76.2,50.84 L78.2,51.33 L80.2,51.82 L82.2,52.31 L84.2,52.80 L86.2,53.29 L88.2,53.79 L90.2,54.28 L92.2,54.77 L94.2,55.26 L96.2,55.75 L98.2,56.24 L100.2,56.73 L102.2,57.22 L104.2,57.72 L106.2,58.21 L108.2,58.70 L110.2,59.19 L112.2,59.69 L114.2,60.18 L116.2,60.68 L118.2,61.17 L120.2,61.67 L122.2,62.17 L124.2,62.66 L126.2,63.16 L128.2,63.66 L130.2,64.16 L132.2,64.66 L134.2,65.16 L136.2,65.67 L138.2,66.17 L140.2,66.68 L142.2,67.18 L144.2,67.69 L146.2,68.20 L148.2,68.71 L150.2,69.22 L152.2,69.73 L154.2,70.25 L156.2,70.76 L158.2,71.28 L160.2,71.80 L162.2,72.32 L164.2,72.84 L166.2,73.37 L168.2,73.89 L170.2,74.42 L172.2,74.95 L174.2,75.48 L176.2,76.01 L178.2,76.55 L180.2,77.08 L182.2,77.62 L184.2,78.16 L186.2,78.70 L188.2,79.25 L190.2,79.80 L192.2,80.35 L194.2,80.90 L196.2,81.45 L198.2,82.01 L200.2,82.57 L202.2,83.13 L204.2,83.69 L206.2,84.26 L208.2,84.83 L210.2,85.40 L212.2,85.97 L214.2,86.55 L216.2,87.13 L218.2,87.71 L220.2,88.29 L222.2,88.88 L224.2,89.47 L226.2,90.07 L228.2,90.66 L230.2,91.26 L232.2,91.87 L234.2,92.47 L236.2,93.08 L238.2,93.69 L240.2,94.31 L242.2,94.93 L244.2,95.55 L246.2,96.18 L248.2,96.81 L250.2,97.44 L252.2,98.07 L254.2,98.71 L256.2,99.36 L258.2,100.00 L260.2,100.66 L262.2,101.31 L264.2,101.97 L266.2,102.63 L268.2,103.30 L270.2,103.97 L272.2,104.64 L274.2,105.32 L276.2,106.00 L278.2,106.69 L280.2,107.38 L282.2,108.07 L284.2,108.77 L286.2,109.47 L288.2,110.18 L290.2,110.89 L292.2,111.61 L294.2,112.33 L296.2,113.06 L298.2,113.79 L300.2,114.53 L302.2,115.28 L304.2,116.03 L306.2,116.78 L308.2,117.54 L310.2,118.31 L312.2,119.09 L314.2,119.87 L316.2,120.66 L318.2,121.45 L320.2,122.25 L322.2,123.06 L324.2,123.88 L326.2,124.70 L328.2,125.53 L330.2,126.37 L332.2,127.21 L334.2,128.07 L336.2,128.93 L338.2,129.80 L340.2,130.68 L342.2,131.56 L344.2,132.46 L346.2,133.36 L348.2,134.28 L350.2,135.20 L352.2,136.13 L354.2,137.07 L356.2,138.02 L358.2,138.98 L360.2,139.95 L362.2,140.93 L364.2,141.92 L366.2,142.92 L368.2,143.93 L370.2,144.95 L372.2,145.98 L374.2,147.02 L376.2,148.08 L378.2,149.14 L380.2,150.21 L382.2,151.30 L384.2,152.40 L386.2,153.51 L388.2,154.63 L390.2,155.76 L392.2,156.91 L394.2,158.06 L396.2,159.23 L398.2,160.41 L400.2,161.61 L402.2,162.81 L404.2,164.03 L406.2,165.27 L408.2,166.51 L410.2,167.77 L412.2,169.05 L414.2,170.33 L416.2,171.63 L418.2,172.95 L420.2,174.27 L422.2,175.62 L424.2,176.97 L426.2,178.34 L428.2,179.73 L430.2,181.13 L432.2,182.54 L434.2,183.97 L436.2,185.41 L438.2,186.87 L440.2,188.33 L442.2,189.81 L444.2,191.30 L446.2,192.80 L448.2,194.31 L450.2,195.83 L452.2,197.36 L454.2,198.90 L456.2,200.45 L458.2,202.00 L460.2,203.56 L462.2,205.13 L464.2,206.71 L466.2,208.29 L468.2,209.87 L470.2,211.46 L472.2,213.06 L474.2,214.66 L476.2,216.26 L478.2,217.86 L480.2,219.47 L482.2,221.08 L484.2,222.69 L486.2,224.30 L488.2,225.92 L490.2,227.53 L492.2,229.14 L494.2,230.75 L496.2,232.36 L498.2,233.97 L500.2,235.57 L502.2,237.17 L504.2,238.77 L506.2,240.37 L508.2,241.98 L510.2,243.58 L512.2,245.18 L514.2,246.79 L516.2,248.39 L518.2,250.01 L520.2,251.62 L522.2,253.24 L524.2,254.87 L526.2,256.50 L528.2,258.14 L530.2,259.79 L532.2,261.45 L534.2,263.11 L536.2,264.78 L538.2,266.47 L540.2,268.16 L542.2,269.87 L544.2,271.59 L546.2,273.32 L548.2,275.07 L550.2,276.83 L552.2,278.61 L554.2,280.40 L556.2,282.21 L558.2,284.03 L560.2,285.88 L562.2,287.74 L564.2,289.62 L566.2,291.52 L568.2,293.44 L570.2,295.37 L572.2,297.32 L574.2,299.29 L576.2,301.27 L578.2,303.26 L580.2,305.26 L582.2,307.27 L584.2,309.29 L586.2,311.32 L588.2,313.35 L590.2,315.39 L592.2,317.43 L594.2,319.47 L596.2,321.52 L598.2,323.56 L600.2,325.60 L602.2,327.64 L604.2,329.68 L606.2,331.71 L608.2,333.73 L610.2,335.75 L612.2,337.76 L614.2,339.75 L616.2,341.74 L618.2,343.71 L620.2,345.67 L622.2,347.61 L624.2,349.54 L626.2,351.45 L628.2,353.34 L630.2,355.21 L632.2,357.06 L634.2,358.88 L636.2,360.69 L638.2,362.46 L640.2,364.21 L642.2,365.94 L644.2,367.63 L646.2,369.30 L648.2,370.93 L650.2,372.53 L652.2,374.09 L654.2,375.63 L656.2,377.12 L658.2,378.58 L660.2,380.00 L662.2,381.38 L664.2,382.72 L666.2,384.02 L668.2,385.28 L670.2,386.51 L672.2,387.69 L674.2,388.83 L676.2,389.93 L678.2,390.99 L680.2,392.01 L682.2,392.99 L684.2,393.93 L686.2,394.83 L688.2,395.68 L690.2,396.50 L692.2,397.28 L694.2,398.03 L696.2,398.73 L698.2,399.41 L700.2,400.04 L702.2,400.65 L704.2,401.22 L706.2,401.76 L708.2,402.28 L710.2,402.76 L712.2,403.21 L714.2,403.64 L716.2,404.04 L718.2,404.41 L720.2,404.76 L722.2,405.09 L724.2,405.39 L726.2,405.67 L728.2,405.93 L730.2,406.17 L732.2,406.39 L734.2,406.60 L736.2,406.78 L738.2,406.95 L740.2,407.11 L742.2,407.25 L744.2,407.38 L746.2,407.49 L748.2,407.59 L750.2,407.69 L752.2,407.77 L754.2,407.84 L756.2,407.91 L758.2,407.97 L760.2,408.03 L762.2,408.07 L764.2,408.12 L766.2,408.16 L768.2,408.20 L770.2,408.24 L772.2,408.28 L774.2,408.32 L776.2,408.36 L778.2,408.41 L780.2,408.46 L782.2,408.51 L784.2,408.57 L786.2,408.63 L788.2,408.70 L790.2,408.78 L792.2,408.87 L794.2,408.97 L796.2,409.08 L798.2,409.20 L800.2,409.34 L802.2,409.49 L804.2,409.65 L806.2,409.83 L808.2,410.03 L810.2,410.25 L812.2,410.48" stroke="#000088" stroke-width="0.95" fill="none"/>
</g>
<rect x="34" y="2" width="775.5" height="410" fill="none" stroke="none"/>
<line x1="35" y1="2.5" x2="810" y2="2.5" stroke="#404040" stroke-width="1.5"/>
<line x1="809.2" y1="2" x2="809.2" y2="412" stroke="#606060" stroke-width="1.6"/>
<line x1="35" y1="1.8" x2="35" y2="412.6" stroke="#000" stroke-width="2"/>
<line x1="34" y1="411.6" x2="810" y2="411.6" stroke="#000" stroke-width="2"/>
<g stroke="#909090" stroke-width="1"><line x1="30.5" y1="381.8" x2="34" y2="381.8"/><line x1="30.5" y1="343.4" x2="34" y2="343.4"/><line x1="30.5" y1="305.0" x2="34" y2="305.0"/><line x1="30.5" y1="266.6" x2="34" y2="266.6"/><line x1="30.5" y1="228.2" x2="34" y2="228.2"/><line x1="30.5" y1="189.9" x2="34" y2="189.9"/><line x1="30.5" y1="151.5" x2="34" y2="151.5"/><line x1="30.5" y1="113.1" x2="34" y2="113.1"/><line x1="30.5" y1="74.7" x2="34" y2="74.7"/><line x1="30.5" y1="36.3" x2="34" y2="36.3"/><line x1="46.0" y1="412.5" x2="46.0" y2="415.5"/><line x1="98.7" y1="412.5" x2="98.7" y2="415.5"/><line x1="151.3" y1="412.5" x2="151.3" y2="415.5"/><line x1="204.0" y1="412.5" x2="204.0" y2="415.5"/><line x1="256.7" y1="412.5" x2="256.7" y2="415.5"/><line x1="309.4" y1="412.5" x2="309.4" y2="415.5"/><line x1="362.0" y1="412.5" x2="362.0" y2="415.5"/><line x1="414.7" y1="412.5" x2="414.7" y2="415.5"/><line x1="467.4" y1="412.5" x2="467.4" y2="415.5"/><line x1="520.0" y1="412.5" x2="520.0" y2="415.5"/><line x1="572.7" y1="412.5" x2="572.7" y2="415.5"/><line x1="625.4" y1="412.5" x2="625.4" y2="415.5"/><line x1="678.0" y1="412.5" x2="678.0" y2="415.5"/><line x1="730.7" y1="412.5" x2="730.7" y2="415.5"/><line x1="783.4" y1="412.5" x2="783.4" y2="415.5"/></g>
<g font-family="&quot;Liberation Sans&quot;, sans-serif" font-size="10.2" fill="#2a2a2a"><text x="27.6" y="384.8" text-anchor="end" letter-spacing="0.5">10</text><text x="27.6" y="346.4" text-anchor="end" letter-spacing="0.5">20</text><text x="27.6" y="308.0" text-anchor="end" letter-spacing="0.5">30</text><text x="27.6" y="269.6" text-anchor="end" letter-spacing="0.5">40</text><text x="27.6" y="231.2" text-anchor="end" letter-spacing="0.5">50</text><text x="27.6" y="192.9" text-anchor="end" letter-spacing="0.5">60</text><text x="27.6" y="154.5" text-anchor="end" letter-spacing="0.5">70</text><text x="27.6" y="116.1" text-anchor="end" letter-spacing="0.5">80</text><text x="27.6" y="77.7" text-anchor="end" letter-spacing="0.5">90</text><text x="27.6" y="39.3" text-anchor="end" letter-spacing="0.5">100</text></g>
<g font-family="&quot;Liberation Sans&quot;, sans-serif" font-size="9.4" fill="#2a2a2a"><text x="45.1" y="426.4" text-anchor="middle" letter-spacing="0.9">73.5</text><text x="97.8" y="426.4" text-anchor="middle" letter-spacing="0.9">74</text><text x="150.4" y="426.4" text-anchor="middle" letter-spacing="0.9">74.5</text><text x="203.1" y="426.4" text-anchor="middle" letter-spacing="0.9">75</text><text x="255.8" y="426.4" text-anchor="middle" letter-spacing="0.9">75.5</text><text x="308.5" y="426.4" text-anchor="middle" letter-spacing="0.9">76</text><text x="361.1" y="426.4" text-anchor="middle" letter-spacing="0.9">76.5</text><text x="413.8" y="426.4" text-anchor="middle" letter-spacing="0.9">77</text><text x="466.5" y="426.4" text-anchor="middle" letter-spacing="0.9">77.5</text><text x="519.1" y="426.4" text-anchor="middle" letter-spacing="0.9">78</text><text x="571.8" y="426.4" text-anchor="middle" letter-spacing="0.9">78.5</text><text x="624.5" y="426.4" text-anchor="middle" letter-spacing="0.9">79</text><text x="677.1" y="426.4" text-anchor="middle" letter-spacing="0.9">79.5</text><text x="729.8" y="426.4" text-anchor="middle" letter-spacing="0.9">80</text><text x="782.5" y="426.4" text-anchor="middle" letter-spacing="0.9">80.5</text></g>
<text transform="translate(8.3,255.8) rotate(-90)" font-family="&quot;Liberation Sans&quot;, sans-serif" font-size="10.5" fill="#2a2a2a" textLength="96.6" lengthAdjust="spacingAndGlyphs">Normalised Fluorescence</text>
<text x="415.5" y="438" font-family="&quot;Liberation Sans&quot;, sans-serif" font-size="10" fill="#303030">°C</text>
<rect x="51.2" y="243.8" width="44.6" height="160" fill="#d0aa08"/>
<text x="72.9" y="279.8" text-anchor="middle" font-family="&quot;Liberation Sans&quot;, sans-serif" font-weight="bold" font-size="30.5" fill="#000">T</text>
<rect x="64" y="294" width="5" height="61.4" fill="#000"/>
<rect x="77.5" y="294" width="5" height="61.4" fill="#000"/>
<text x="73.5" y="391.2" text-anchor="middle" font-family="&quot;Liberation Sans&quot;, sans-serif" font-weight="bold" font-size="30.5" fill="#000">A</text>
<rect x="139.8" y="244" width="46" height="159.6" fill="#d0aa08"/>
<text x="162" y="279.8" text-anchor="middle" font-family="&quot;Liberation Sans&quot;, sans-serif" font-weight="bold" font-size="30.5" fill="#000">C</text>
<rect x="148.9" y="295.3" width="4.5" height="61" fill="#000"/>
<rect x="162.2" y="295.3" width="4.5" height="61" fill="#000"/>
<rect x="175.1" y="295.3" width="4.5" height="61" fill="#000"/>
<text x="162.7" y="391.2" text-anchor="middle" font-family="&quot;Liberation Sans&quot;, sans-serif" font-weight="bold" font-size="30.5" fill="#000">G</text>
<rect x="271.1" y="243.8" width="43.4" height="159.8" fill="#d0aa08"/>
<text x="292" y="279.8" text-anchor="middle" font-family="&quot;Liberation Sans&quot;, sans-serif" font-weight="bold" font-size="30.5" fill="#000">T</text>
<circle cx="294.4" cy="295.1" r="2.3" fill="#000"/>
<circle cx="294.4" cy="304.5" r="2.3" fill="#000"/>
<circle cx="294.4" cy="314.0" r="2.3" fill="#000"/>
<circle cx="294.4" cy="323.4" r="2.3" fill="#000"/>
<circle cx="294.4" cy="332.8" r="2.3" fill="#000"/>
<circle cx="294.4" cy="342.2" r="2.3" fill="#000"/>
<circle cx="294.4" cy="351.7" r="2.3" fill="#000"/>
<text x="293.6" y="391.2" text-anchor="middle" font-family="&quot;Liberation Sans&quot;, sans-serif" font-weight="bold" font-size="30.5" fill="#f0963a">G</text>
<rect x="359.9" y="244.1" width="44.4" height="159.6" fill="#d0aa08"/>
<text x="382" y="279.5" text-anchor="middle" font-family="&quot;Liberation Sans&quot;, sans-serif" font-weight="bold" font-size="30.5" fill="#000">C</text>
<circle cx="383.5" cy="295.1" r="2.3" fill="#000"/>
<circle cx="383.5" cy="304.5" r="2.3" fill="#000"/>
<circle cx="383.5" cy="314.0" r="2.3" fill="#000"/>
<circle cx="383.5" cy="323.4" r="2.3" fill="#000"/>
<circle cx="383.5" cy="332.8" r="2.3" fill="#000"/>
<circle cx="383.5" cy="342.2" r="2.3" fill="#000"/>
<circle cx="383.5" cy="351.7" r="2.3" fill="#000"/>
<text x="381.4" y="391.2" text-anchor="middle" font-family="&quot;Liberation Sans&quot;, sans-serif" font-weight="bold" font-size="30.5" fill="#f0963a">A</text>
<rect x="445.5" y="243.2" width="54.2" height="161.6" fill="#00ff00"/>
<text x="467.2" y="280" text-anchor="middle" font-family="&quot;Liberation Sans&quot;, sans-serif" font-weight="bold" font-size="30.5" fill="#fff">T</text>
<rect x="461.6" y="293.8" width="4.5" height="61.4" fill="#fff"/>
<rect x="477.9" y="293.8" width="4.5" height="61.4" fill="#fff"/>
<text x="468.5" y="391.3" text-anchor="middle" font-family="&quot;Liberation Sans&quot;, sans-serif" font-weight="bold" font-size="30.5" fill="#fff">A</text>
<rect x="603.1" y="77.3" width="53.8" height="161.3" fill="#ff0000"/>
<text x="625.8" y="113.3" text-anchor="middle" font-family="&quot;Liberation Sans&quot;, sans-serif" font-weight="bold" font-size="30.5" fill="#fff">C</text>
<rect x="614.8" y="128.1" width="4.7" height="61.6" fill="#fff"/>
<rect x="628.9" y="128.1" width="4.7" height="61.6" fill="#fff"/>
<rect x="643.5" y="128.1" width="4.7" height="61.6" fill="#fff"/>
<text x="626.7" y="225" text-anchor="middle" font-family="&quot;Liberation Sans&quot;, sans-serif" font-weight="bold" font-size="30.5" fill="#fff">G</text>
<rect x="0" y="417.7" width="17.3" height="17" fill="#d2d2d2"/>
<line x1="0" y1="418.2" x2="17" y2="418.2" stroke="#f4f4f4" stroke-width="1"/>
<line x1="17.3" y1="418" x2="17.3" y2="434" stroke="#4a4a4a" stroke-width="1.5"/>
<line x1="0.5" y1="433.8" x2="9.5" y2="426.6" stroke="#505050" stroke-width="3.4"/>
<line x1="0.5" y1="433.8" x2="9.5" y2="426.6" stroke="#ececec" stroke-width="1.3"/>
<circle cx="11.3" cy="424.6" r="3.9" fill="#4a4a4a"/>
<circle cx="11.3" cy="424.6" r="1.9" fill="#d8d8d8"/>
<path d="M12.2,423.6 L15.8,420 L16.6,422.6 L13.2,425 Z" fill="#d2d2d2"/>
<g>
<path d="M657.5,397 C656,391 661,386.5 668.5,386.5 C675,386.5 680,390 680.5,394 L670,403.5 C666,404 663,403.6 661,403 L657.8,405.2 L658.8,401.4 C657.6,400 657.5,398.5 657.5,397 Z" fill="rgba(255,255,255,0.9)" stroke="#6a6a6a" stroke-width="0.7" stroke-opacity="0.6"/>
<circle cx="678.6" cy="400.6" r="9" fill="rgba(255,255,255,0.9)" stroke="#4a4a4a" stroke-width="0.8"/>
<circle cx="664.8" cy="390.2" r="1.1" fill="#202050"/><circle cx="673.6" cy="390" r="1.1" fill="#202050"/>
<circle cx="675.5" cy="397.3" r="0.9" fill="#303050"/><circle cx="682.9" cy="397.3" r="1" fill="#202050"/>
</g>
<text x="735.2" y="405.4" font-family="&quot;Liberation Sans&quot;, sans-serif" font-size="19.6" fill="#f4f4f4" stroke="#3c3c3c" stroke-width="1.6" paint-order="stroke" textLength="48.6" lengthAdjust="spacing">Talks</text>
<g stroke="#5a5a5a" stroke-width="2.0" fill="none" stroke-linecap="square"><path d="M698.5,391.3 H716 M702,388.8 V399.2 M712.2,388.8 V399.2 M702,393.8 H712.2 M702,396.5 H712.2 M697.2,399.4 H717.2 M702.5,399.8 L698.8,402.6 M711.8,399.8 L715.8,402.6 M701.5,402.6 H712.5 M707,400.2 V405.6 M698.5,405.4 H715.8 M718.6,390.4 H731.6 V405.4 H718.6 Z M720.6,395.4 H729.6 M725.1,391.8 V395.4 M725.1,395.4 L720.9,403.2 M725.4,396.6 L729.6,403.2 M719,403.6 H731"/></g>
<g stroke="#ffffff" stroke-width="0.8" fill="none" stroke-linecap="butt"><path d="M698.5,391.3 H716 M702,388.8 V399.2 M712.2,388.8 V399.2 M702,393.8 H712.2 M702,396.5 H712.2 M697.2,399.4 H717.2 M702.5,399.8 L698.8,402.6 M711.8,399.8 L715.8,402.6 M701.5,402.6 H712.5 M707,400.2 V405.6 M698.5,405.4 H715.8 M718.6,390.4 H731.6 V405.4 H718.6 Z M720.6,395.4 H729.6 M725.1,391.8 V395.4 M725.1,395.4 L720.9,403.2 M725.4,396.6 L729.6,403.2 M719,403.6 H731"/></g>
</svg>
</body></html>
